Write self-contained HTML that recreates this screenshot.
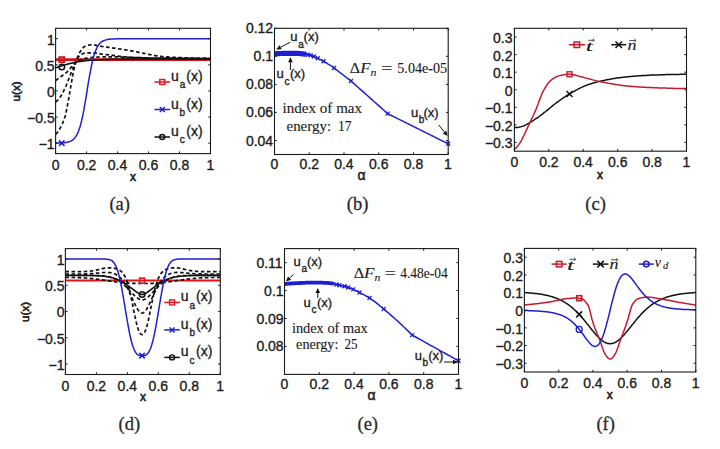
<!DOCTYPE html><html><head><meta charset="utf-8"><style>html,body{margin:0;padding:0;background:#fff;}svg{display:block}</style></head><body><svg width="720" height="449" viewBox="0 0 720 449">
<style>text{stroke:#222;stroke-width:0.35px}text.s{stroke-width:0.12px}text.xl{stroke-width:0.6px}text.cp{stroke:#333;stroke-width:0.3px}text.al{stroke-width:0.5px}</style>
<rect width="720" height="449" fill="#ffffff"/>
<clipPath id="ca"><rect x="55.6" y="28.3" width="154.9" height="125.3"/></clipPath>
<g clip-path="url(#ca)">
<polyline points="55.6,59.6 56.6,59.6 57.5,59.6 58.5,59.6 59.5,59.6 60.4,59.6 61.4,59.6 62.4,59.6 63.3,59.6 64.3,59.6 65.3,59.6 66.2,59.6 67.2,59.6 68.2,59.6 69.2,59.6 70.1,59.6 71.1,59.6 72.1,59.6 73.0,59.6 74.0,59.6 75.0,59.6 75.9,59.6 76.9,59.6 77.9,59.6 78.8,59.6 79.8,59.6 80.8,59.6 81.7,59.6 82.7,59.6 83.7,59.6 84.6,59.6 85.6,59.6 86.6,59.6 87.5,59.6 88.5,59.6 89.5,59.6 90.5,59.6 91.4,59.6 92.4,59.6 93.4,59.6 94.3,59.6 95.3,59.6 96.3,59.6 97.2,59.6 98.2,59.6 99.2,59.6 100.1,59.6 101.1,59.6 102.1,59.6 103.0,59.6 104.0,59.6 105.0,59.6 105.9,59.6 106.9,59.6 107.9,59.6 108.8,59.6 109.8,59.6 110.8,59.6 111.8,59.6 112.7,59.6 113.7,59.6 114.7,59.6 115.6,59.6 116.6,59.6 117.6,59.6 118.5,59.6 119.5,59.6 120.5,59.6 121.4,59.6 122.4,59.6 123.4,59.6 124.3,59.6 125.3,59.6 126.3,59.6 127.2,59.6 128.2,59.6 129.2,59.6 130.1,59.6 131.1,59.6 132.1,59.6 133.1,59.6 134.0,59.6 135.0,59.6 136.0,59.6 136.9,59.6 137.9,59.6 138.9,59.6 139.8,59.6 140.8,59.6 141.8,59.6 142.7,59.6 143.7,59.6 144.7,59.6 145.6,59.6 146.6,59.6 147.6,59.6 148.5,59.6 149.5,59.6 150.5,59.6 151.4,59.6 152.4,59.6 153.4,59.6 154.3,59.6 155.3,59.6 156.3,59.6 157.3,59.6 158.2,59.6 159.2,59.6 160.2,59.6 161.1,59.6 162.1,59.6 163.1,59.6 164.0,59.6 165.0,59.6 166.0,59.6 166.9,59.6 167.9,59.6 168.9,59.6 169.8,59.6 170.8,59.6 171.8,59.6 172.7,59.6 173.7,59.6 174.7,59.6 175.6,59.6 176.6,59.6 177.6,59.6 178.6,59.6 179.5,59.6 180.5,59.6 181.5,59.6 182.4,59.6 183.4,59.6 184.4,59.6 185.3,59.6 186.3,59.6 187.3,59.6 188.2,59.6 189.2,59.6 190.2,59.6 191.1,59.6 192.1,59.6 193.1,59.6 194.0,59.6 195.0,59.6 196.0,59.6 196.9,59.6 197.9,59.6 198.9,59.6 199.9,59.6 200.8,59.6 201.8,59.6 202.8,59.6 203.7,59.6 204.7,59.6 205.7,59.6 206.6,59.6 207.6,59.6 208.6,59.6 209.5,59.6 210.5,59.6" fill="none" stroke="#d0141c" stroke-width="2.6" stroke-linejoin="round" stroke-linecap="butt"/>
<polyline points="55.6,134.3 56.6,133.3 57.5,132.2 58.5,130.8 59.5,129.3 60.4,127.7 61.4,125.9 62.4,123.8 63.3,121.5 64.3,118.8 65.3,115.7 66.2,111.6 67.2,106.7 68.2,101.3 69.2,95.9 70.1,90.4 71.1,84.5 72.1,78.9 73.0,73.9 74.0,69.4 75.0,65.5 75.9,62.1 76.9,59.0 77.9,56.3 78.8,54.0 79.8,52.3 80.8,50.7 81.7,49.3 82.7,48.1 83.7,47.2 84.6,46.5 85.6,46.1 86.6,45.7 87.5,45.4 88.5,45.2 89.5,45.0 90.5,44.8 91.4,44.8 92.4,44.8 93.4,44.8 94.3,45.0 95.3,45.2 96.3,45.4 97.2,45.6 98.2,45.8 99.2,46.0 100.1,46.2 101.1,46.3 102.1,46.5 103.0,46.6 104.0,46.7 105.0,46.9 105.9,47.0 106.9,47.1 107.9,47.3 108.8,47.4 109.8,47.5 110.8,47.7 111.8,47.8 112.7,48.0 113.7,48.1 114.7,48.2 115.6,48.4 116.6,48.5 117.6,48.7 118.5,48.8 119.5,49.0 120.5,49.1 121.4,49.2 122.4,49.4 123.4,49.5 124.3,49.7 125.3,49.8 126.3,50.0 127.2,50.1 128.2,50.3 129.2,50.4 130.1,50.6 131.1,50.8 132.1,50.9 133.1,51.1 134.0,51.3 135.0,51.5 136.0,51.7 136.9,51.9 137.9,52.1 138.9,52.3 139.8,52.5 140.8,52.7 141.8,52.9 142.7,53.1 143.7,53.3 144.7,53.5 145.6,53.7 146.6,53.9 147.6,54.2 148.5,54.4 149.5,54.6 150.5,54.7 151.4,54.9 152.4,55.1 153.4,55.3 154.3,55.5 155.3,55.6 156.3,55.8 157.3,55.9 158.2,56.1 159.2,56.2 160.2,56.3 161.1,56.4 162.1,56.5 163.1,56.6 164.0,56.6 165.0,56.7 166.0,56.8 166.9,56.9 167.9,56.9 168.9,57.0 169.8,57.1 170.8,57.1 171.8,57.2 172.7,57.3 173.7,57.3 174.7,57.4 175.6,57.4 176.6,57.5 177.6,57.5 178.6,57.6 179.5,57.6 180.5,57.7 181.5,57.7 182.4,57.8 183.4,57.8 184.4,57.9 185.3,57.9 186.3,57.9 187.3,58.0 188.2,58.0 189.2,58.0 190.2,58.1 191.1,58.1 192.1,58.1 193.1,58.2 194.0,58.2 195.0,58.2 196.0,58.2 196.9,58.3 197.9,58.3 198.9,58.3 199.9,58.3 200.8,58.3 201.8,58.4 202.8,58.4 203.7,58.4 204.7,58.4 205.7,58.4 206.6,58.4 207.6,58.5 208.6,58.5 209.5,58.5 210.5,58.5" fill="none" stroke="#111111" stroke-width="1.7" stroke-dasharray="3.6,2.5" stroke-linejoin="round" stroke-linecap="butt"/>
<polyline points="55.6,101.9 56.6,101.2 57.5,100.3 58.5,99.2 59.5,98.1 60.4,96.7 61.4,95.2 62.4,93.5 63.3,91.6 64.3,89.7 65.3,87.7 66.2,85.5 67.2,83.0 68.2,80.5 69.2,78.0 70.1,75.5 71.1,73.0 72.1,70.4 73.0,67.9 74.0,65.4 75.0,63.2 75.9,61.2 76.9,59.3 77.9,57.7 78.8,56.5 79.8,55.6 80.8,54.9 81.7,54.2 82.7,53.7 83.7,53.3 84.6,53.1 85.6,53.0 86.6,53.0 87.5,52.9 88.5,52.9 89.5,52.9 90.5,52.9 91.4,52.8 92.4,52.8 93.4,52.9 94.3,52.9 95.3,53.1 96.3,53.2 97.2,53.4 98.2,53.6 99.2,53.8 100.1,53.9 101.1,54.0 102.1,54.1 103.0,54.2 104.0,54.3 105.0,54.5 105.9,54.6 106.9,54.7 107.9,54.8 108.8,54.9 109.8,55.0 110.8,55.1 111.8,55.2 112.7,55.3 113.7,55.4 114.7,55.5 115.6,55.7 116.6,55.8 117.6,56.0 118.5,56.1 119.5,56.3 120.5,56.4 121.4,56.6 122.4,56.7 123.4,56.8 124.3,56.8 125.3,56.9 126.3,57.0 127.2,57.0 128.2,57.1 129.2,57.2 130.1,57.2 131.1,57.3 132.1,57.4 133.1,57.4 134.0,57.5 135.0,57.5 136.0,57.6 136.9,57.6 137.9,57.7 138.9,57.7 139.8,57.7 140.8,57.8 141.8,57.8 142.7,57.8 143.7,57.9 144.7,57.9 145.6,57.9 146.6,57.9 147.6,57.9 148.5,58.0 149.5,58.0 150.5,58.0 151.4,58.0 152.4,58.0 153.4,58.0 154.3,58.0 155.3,58.0 156.3,58.0 157.3,58.0 158.2,58.1 159.2,58.1 160.2,58.1 161.1,58.1 162.1,58.1 163.1,58.1 164.0,58.1 165.0,58.1 166.0,58.1 166.9,58.1 167.9,58.1 168.9,58.2 169.8,58.2 170.8,58.2 171.8,58.2 172.7,58.2 173.7,58.2 174.7,58.2 175.6,58.2 176.6,58.2 177.6,58.2 178.6,58.2 179.5,58.2 180.5,58.2 181.5,58.2 182.4,58.2 183.4,58.2 184.4,58.3 185.3,58.3 186.3,58.3 187.3,58.3 188.2,58.3 189.2,58.3 190.2,58.3 191.1,58.3 192.1,58.3 193.1,58.3 194.0,58.3 195.0,58.3 196.0,58.3 196.9,58.3 197.9,58.3 198.9,58.3 199.9,58.3 200.8,58.3 201.8,58.3 202.8,58.3 203.7,58.3 204.7,58.3 205.7,58.3 206.6,58.3 207.6,58.3 208.6,58.3 209.5,58.3 210.5,58.3" fill="none" stroke="#111111" stroke-width="1.7" stroke-dasharray="3.6,2.5" stroke-linejoin="round" stroke-linecap="butt"/>
<polyline points="55.6,80.5 56.6,79.8 57.5,79.1 58.5,78.4 59.5,77.7 60.4,76.9 61.4,76.2 62.4,75.5 63.3,74.8 64.3,74.1 65.3,73.4 66.2,72.6 67.2,71.8 68.2,70.8 69.2,69.7 70.1,68.5 71.1,67.3 72.1,66.1 73.0,64.9 74.0,64.0 75.0,63.1 75.9,62.3 76.9,61.6 77.9,60.9 78.8,60.3 79.8,59.8 80.8,59.5 81.7,59.2 82.7,59.0 83.7,58.8 84.6,58.6 85.6,58.4 86.6,58.2 87.5,58.0 88.5,57.9 89.5,57.7 90.5,57.6 91.4,57.5 92.4,57.4 93.4,57.3 94.3,57.3 95.3,57.2 96.3,57.2 97.2,57.1 98.2,57.1 99.2,57.0 100.1,57.0 101.1,56.9 102.1,56.9 103.0,56.9 104.0,56.8 105.0,56.8 105.9,56.8 106.9,56.8 107.9,56.8 108.8,56.8 109.8,56.8 110.8,56.8 111.8,56.8 112.7,56.8 113.7,56.8 114.7,56.8 115.6,56.8 116.6,56.9 117.6,56.9 118.5,56.9 119.5,57.0 120.5,57.0 121.4,57.1 122.4,57.1 123.4,57.2 124.3,57.2 125.3,57.2 126.3,57.3 127.2,57.3 128.2,57.4 129.2,57.4 130.1,57.4 131.1,57.5 132.1,57.5 133.1,57.5 134.0,57.6 135.0,57.6 136.0,57.6 136.9,57.6 137.9,57.7 138.9,57.7 139.8,57.7 140.8,57.7 141.8,57.8 142.7,57.8 143.7,57.8 144.7,57.8 145.6,57.8 146.6,57.9 147.6,57.9 148.5,57.9 149.5,57.9 150.5,57.9 151.4,58.0 152.4,58.0 153.4,58.0 154.3,58.0 155.3,58.0 156.3,58.1 157.3,58.1 158.2,58.1 159.2,58.1 160.2,58.1 161.1,58.1 162.1,58.1 163.1,58.2 164.0,58.2 165.0,58.2 166.0,58.2 166.9,58.2 167.9,58.2 168.9,58.2 169.8,58.2 170.8,58.2 171.8,58.2 172.7,58.3 173.7,58.3 174.7,58.3 175.6,58.3 176.6,58.3 177.6,58.3 178.6,58.3 179.5,58.3 180.5,58.3 181.5,58.3 182.4,58.3 183.4,58.3 184.4,58.4 185.3,58.4 186.3,58.4 187.3,58.4 188.2,58.4 189.2,58.4 190.2,58.4 191.1,58.4 192.1,58.4 193.1,58.4 194.0,58.4 195.0,58.4 196.0,58.4 196.9,58.4 197.9,58.4 198.9,58.5 199.9,58.5 200.8,58.5 201.8,58.5 202.8,58.5 203.7,58.5 204.7,58.5 205.7,58.5 206.6,58.5 207.6,58.5 208.6,58.5 209.5,58.5 210.5,58.5" fill="none" stroke="#111111" stroke-width="1.7" stroke-dasharray="3.6,2.5" stroke-linejoin="round" stroke-linecap="butt"/>
<polyline points="55.6,67.7 56.6,67.5 57.5,67.2 58.5,66.9 59.5,66.6 60.4,66.3 61.4,66.0 62.4,65.6 63.3,65.3 64.3,65.0 65.3,64.8 66.2,64.5 67.2,64.2 68.2,63.9 69.2,63.7 70.1,63.4 71.1,63.2 72.1,63.0 73.0,62.8 74.0,62.6 75.0,62.4 75.9,62.2 76.9,62.0 77.9,61.8 78.8,61.7 79.8,61.5 80.8,61.4 81.7,61.2 82.7,61.1 83.7,61.0 84.6,60.8 85.6,60.7 86.6,60.6 87.5,60.5 88.5,60.4 89.5,60.3 90.5,60.3 91.4,60.2 92.4,60.1 93.4,60.0 94.3,60.0 95.3,59.9 96.3,59.9 97.2,59.8 98.2,59.7 99.2,59.7 100.1,59.7 101.1,59.6 102.1,59.6 103.0,59.5 104.0,59.5 105.0,59.5 105.9,59.4 106.9,59.4 107.9,59.4 108.8,59.3 109.8,59.3 110.8,59.3 111.8,59.3 112.7,59.3 113.7,59.2 114.7,59.2 115.6,59.2 116.6,59.2 117.6,59.2 118.5,59.2 119.5,59.2 120.5,59.1 121.4,59.1 122.4,59.1 123.4,59.1 124.3,59.1 125.3,59.1 126.3,59.1 127.2,59.1 128.2,59.1 129.2,59.1 130.1,59.1 131.1,59.1 132.1,59.1 133.1,59.1 134.0,59.1 135.0,59.0 136.0,59.0 136.9,59.0 137.9,59.0 138.9,59.0 139.8,59.0 140.8,59.0 141.8,59.0 142.7,59.0 143.7,59.0 144.7,59.0 145.6,59.0 146.6,59.0 147.6,59.0 148.5,59.0 149.5,59.0 150.5,59.0 151.4,59.0 152.4,59.0 153.4,59.0 154.3,59.0 155.3,59.0 156.3,59.0 157.3,59.0 158.2,59.0 159.2,59.0 160.2,59.0 161.1,59.0 162.1,59.0 163.1,59.0 164.0,59.0 165.0,59.0 166.0,59.0 166.9,59.0 167.9,59.0 168.9,59.0 169.8,59.0 170.8,59.0 171.8,59.0 172.7,59.0 173.7,59.0 174.7,59.0 175.6,59.0 176.6,59.0 177.6,59.0 178.6,59.0 179.5,59.0 180.5,59.0 181.5,59.0 182.4,59.0 183.4,59.0 184.4,59.0 185.3,59.0 186.3,59.0 187.3,59.0 188.2,59.0 189.2,59.0 190.2,59.0 191.1,59.0 192.1,59.0 193.1,59.0 194.0,59.0 195.0,59.0 196.0,59.0 196.9,59.0 197.9,59.0 198.9,59.0 199.9,59.0 200.8,59.0 201.8,59.0 202.8,59.0 203.7,59.0 204.7,59.0 205.7,59.0 206.6,59.0 207.6,59.0 208.6,59.0 209.5,59.0 210.5,59.0" fill="none" stroke="#111111" stroke-width="1.6" stroke-linejoin="round" stroke-linecap="butt"/>
<polyline points="55.6,143.1 56.6,143.1 57.5,143.1 58.5,143.0 59.5,143.0 60.4,143.0 61.4,142.9 62.4,142.9 63.3,142.8 64.3,142.7 65.3,142.6 66.2,142.4 67.2,142.3 68.2,142.0 69.2,141.7 70.1,141.4 71.1,140.9 72.1,140.3 73.0,139.6 74.0,138.7 75.0,137.7 75.9,136.3 76.9,134.7 77.9,132.7 78.8,130.3 79.8,127.5 80.8,124.1 81.7,120.2 82.7,115.8 83.7,110.9 84.6,105.5 85.6,99.8 86.6,93.8 87.5,87.8 88.5,81.9 89.5,76.1 90.5,70.8 91.4,65.9 92.4,61.5 93.4,57.6 94.3,54.3 95.3,51.5 96.3,49.1 97.2,47.2 98.2,45.5 99.2,44.2 100.1,43.1 101.1,42.2 102.1,41.5 103.0,41.0 104.0,40.5 105.0,40.2 105.9,39.9 106.9,39.6 107.9,39.5 108.8,39.3 109.8,39.2 110.8,39.1 111.8,39.0 112.7,39.0 113.7,38.9 114.7,38.9 115.6,38.9 116.6,38.8 117.6,38.8 118.5,38.8 119.5,38.8 120.5,38.8 121.4,38.8 122.4,38.8 123.4,38.8 124.3,38.8 125.3,38.8 126.3,38.8 127.2,38.7 128.2,38.7 129.2,38.7 130.1,38.7 131.1,38.7 132.1,38.7 133.1,38.7 134.0,38.7 135.0,38.7 136.0,38.7 136.9,38.7 137.9,38.7 138.9,38.7 139.8,38.7 140.8,38.7 141.8,38.7 142.7,38.7 143.7,38.7 144.7,38.7 145.6,38.7 146.6,38.7 147.6,38.7 148.5,38.7 149.5,38.7 150.5,38.7 151.4,38.7 152.4,38.7 153.4,38.7 154.3,38.7 155.3,38.7 156.3,38.7 157.3,38.7 158.2,38.7 159.2,38.7 160.2,38.7 161.1,38.7 162.1,38.7 163.1,38.7 164.0,38.7 165.0,38.7 166.0,38.7 166.9,38.7 167.9,38.7 168.9,38.7 169.8,38.7 170.8,38.7 171.8,38.7 172.7,38.7 173.7,38.7 174.7,38.7 175.6,38.7 176.6,38.7 177.6,38.7 178.6,38.7 179.5,38.7 180.5,38.7 181.5,38.7 182.4,38.7 183.4,38.7 184.4,38.7 185.3,38.7 186.3,38.7 187.3,38.7 188.2,38.7 189.2,38.7 190.2,38.7 191.1,38.7 192.1,38.7 193.1,38.7 194.0,38.7 195.0,38.7 196.0,38.7 196.9,38.7 197.9,38.7 198.9,38.7 199.9,38.7 200.8,38.7 201.8,38.7 202.8,38.7 203.7,38.7 204.7,38.7 205.7,38.7 206.6,38.7 207.6,38.7 208.6,38.7 209.5,38.7 210.5,38.7" fill="none" stroke="#1e1ed2" stroke-width="1.5" stroke-linejoin="round" stroke-linecap="butt"/>
</g>
<rect x="59.3" y="57.1" width="5.0" height="5.0" fill="none" stroke="#d0141c" stroke-width="1.8"/>
<path d="M59.0,140.4L64.5,145.9M59.0,145.9L64.5,140.4" stroke="#1e1ed2" stroke-width="1.5" fill="none"/>
<circle cx="61.8" cy="67.0" r="2.8" fill="none" stroke="#111111" stroke-width="1.5"/>
<rect x="55.6" y="28.3" width="154.9" height="125.3" fill="none" stroke="#1a1a1a" stroke-width="1.1"/>
<path d="M55.6,153.6v-2.2M55.6,28.3v2.2M86.6,153.6v-2.2M86.6,28.3v2.2M117.6,153.6v-2.2M117.6,28.3v2.2M148.5,153.6v-2.2M148.5,28.3v2.2M179.5,153.6v-2.2M179.5,28.3v2.2M210.5,153.6v-2.2M210.5,28.3v2.2M55.6,143.2h2.2M210.5,143.2h-2.2M55.6,117.1h2.2M210.5,117.1h-2.2M55.6,90.9h2.2M210.5,90.9h-2.2M55.6,64.8h2.2M210.5,64.8h-2.2M55.6,38.7h2.2M210.5,38.7h-2.2" stroke="#1a1a1a" stroke-width="1" fill="none"/>
<text x="51.7" y="169.8" style="font-family:'Liberation Sans',sans-serif;font-size:14px;fill:#1a1a1a">0</text>
<text x="76.9" y="169.8" style="font-family:'Liberation Sans',sans-serif;font-size:14px;fill:#1a1a1a">0.2</text>
<text x="107.8" y="169.8" style="font-family:'Liberation Sans',sans-serif;font-size:14px;fill:#1a1a1a">0.4</text>
<text x="138.8" y="169.8" style="font-family:'Liberation Sans',sans-serif;font-size:14px;fill:#1a1a1a">0.6</text>
<text x="169.8" y="169.8" style="font-family:'Liberation Sans',sans-serif;font-size:14px;fill:#1a1a1a">0.8</text>
<text x="206.4" y="169.8" style="font-family:'Liberation Sans',sans-serif;font-size:14px;fill:#1a1a1a">1</text>
<text x="38.7" y="148.9" style="font-family:'Liberation Sans',sans-serif;font-size:14px;fill:#1a1a1a">−1</text>
<text x="27.1" y="122.8" style="font-family:'Liberation Sans',sans-serif;font-size:14px;fill:#1a1a1a">−0.5</text>
<text x="46.9" y="96.7" style="font-family:'Liberation Sans',sans-serif;font-size:14px;fill:#1a1a1a">0</text>
<text x="35.2" y="70.6" style="font-family:'Liberation Sans',sans-serif;font-size:14px;fill:#1a1a1a">0.5</text>
<text x="46.9" y="44.5" style="font-family:'Liberation Sans',sans-serif;font-size:14px;fill:#1a1a1a">1</text>
<text x="129.9" y="180.6" style="font-family:'Liberation Sans',sans-serif;font-size:12px;fill:#1a1a1a" class="xl">x</text>
<text class="xl" transform="translate(19.5,91.4) rotate(-90)" text-anchor="middle" style="font-family:'Liberation Sans',sans-serif;font-size:11.6px;fill:#1a1a1a">u(x)</text>
<line x1="154.5" y1="82.0" x2="170.0" y2="82.0" stroke="#e3141c" stroke-width="1.5"/>
<rect x="159.8" y="79.5" width="5.0" height="5.0" fill="none" stroke="#e3141c" stroke-width="1.4"/>
<text x="171.0" y="81.0" style="font-family:'Liberation Sans',sans-serif;font-size:14px;fill:#1a1a1a">u</text>
<text x="179.8" y="88.3" style="font-family:'Liberation Sans',sans-serif;font-size:10px;fill:#1a1a1a">a</text>
<text x="186.3" y="81.0" style="font-family:'Liberation Sans',sans-serif;font-size:14px;fill:#1a1a1a">(x)</text>
<line x1="154.5" y1="109.5" x2="170.0" y2="109.5" stroke="#1e1ed2" stroke-width="1.5"/>
<path d="M159.8,107.0L164.8,112.0M159.8,112.0L164.8,107.0" stroke="#1e1ed2" stroke-width="1.4" fill="none"/>
<text x="171.0" y="108.5" style="font-family:'Liberation Sans',sans-serif;font-size:14px;fill:#1a1a1a">u</text>
<text x="179.6" y="115.8" style="font-family:'Liberation Sans',sans-serif;font-size:10px;fill:#1a1a1a">b</text>
<text x="186.3" y="108.5" style="font-family:'Liberation Sans',sans-serif;font-size:14px;fill:#1a1a1a">(x)</text>
<line x1="154.5" y1="137.0" x2="170.0" y2="137.0" stroke="#111111" stroke-width="1.5"/>
<circle cx="162.2" cy="137.0" r="2.5" fill="none" stroke="#111111" stroke-width="1.4"/>
<text x="171.0" y="136.0" style="font-family:'Liberation Sans',sans-serif;font-size:14px;fill:#1a1a1a">u</text>
<text x="179.8" y="143.3" style="font-family:'Liberation Sans',sans-serif;font-size:10px;fill:#1a1a1a">c</text>
<text x="186.3" y="136.0" style="font-family:'Liberation Sans',sans-serif;font-size:14px;fill:#1a1a1a">(x)</text>
<text class="cp" x="109.4" y="210.0" style="font-family:'Liberation Serif',serif;font-size:18.5px;fill:#262626">(a)</text>
<clipPath id="cb"><rect x="274.5" y="28.3" width="173.7" height="126.2"/></clipPath>
<g clip-path="url(#cb)">
<polyline points="274.5,53.9 275.4,53.8 276.2,53.8 277.1,53.7 278.0,53.7 278.9,53.6 279.7,53.6 280.6,53.5 281.5,53.5 282.4,53.4 283.2,53.4 284.1,53.4 285.0,53.4 285.8,53.4 286.7,53.4 287.6,53.4 288.5,53.4 289.3,53.4 290.2,53.4 291.1,53.4 292.0,53.4 292.8,53.4 293.7,53.4 294.6,53.4 295.4,53.4 296.3,53.4 297.2,53.4 298.1,53.5 298.9,53.5 299.8,53.6 300.7,53.6 301.6,53.7 302.4,53.8 303.3,53.9 304.2,54.1 305.1,54.2 305.9,54.3 306.8,54.4 307.7,54.6 308.5,54.8 309.4,55.1 310.3,55.3 311.2,55.6 312.0,55.9 312.9,56.2 313.8,56.5 314.7,56.8 315.5,57.2 316.4,57.6 317.3,58.0 318.1,58.4 319.0,58.9 319.9,59.3 320.8,59.8 321.6,60.3 322.5,60.8 323.4,61.2 324.3,61.7 325.1,62.2 326.0,62.7 326.9,63.2 327.7,63.8 328.6,64.3 329.5,64.9 330.4,65.4 331.2,66.0 332.1,66.6 333.0,67.2 333.9,67.9 334.7,68.5 335.6,69.2 336.5,69.9 337.3,70.5 338.2,71.2 339.1,71.9 340.0,72.5 340.8,73.2 341.7,73.9 342.6,74.5 343.5,75.2 344.3,75.9 345.2,76.6 346.1,77.2 346.9,77.9 347.8,78.6 348.7,79.2 349.6,79.9 350.4,80.6 351.3,81.3 352.2,82.1 353.1,82.8 353.9,83.6 354.8,84.4 355.7,85.2 356.5,85.9 357.4,86.7 358.3,87.5 359.2,88.3 360.0,89.1 360.9,89.8 361.8,90.6 362.7,91.4 363.5,92.2 364.4,92.9 365.3,93.7 366.2,94.5 367.0,95.3 367.9,96.0 368.8,96.8 369.6,97.6 370.5,98.4 371.4,99.2 372.3,99.9 373.1,100.7 374.0,101.5 374.9,102.3 375.8,103.0 376.6,103.8 377.5,104.6 378.4,105.4 379.2,106.2 380.1,106.9 381.0,107.7 381.9,108.5 382.7,109.3 383.6,110.0 384.5,110.8 385.4,111.6 386.2,112.4 387.1,113.2 388.0,113.8 388.8,114.2 389.7,114.7 390.6,115.1 391.5,115.5 392.3,116.0 393.2,116.4 394.1,116.8 395.0,117.3 395.8,117.7 396.7,118.1 397.6,118.6 398.4,119.0 399.3,119.4 400.2,119.9 401.1,120.3 401.9,120.7 402.8,121.2 403.7,121.6 404.6,122.1 405.4,122.5 406.3,122.9 407.2,123.4 408.0,123.8 408.9,124.2 409.8,124.7 410.7,125.1 411.5,125.5 412.4,126.0 413.3,126.4 414.2,126.8 415.0,127.3 415.9,127.7 416.8,128.1 417.6,128.6 418.5,129.0 419.4,129.4 420.3,129.9 421.1,130.3 422.0,130.8 422.9,131.2 423.8,131.6 424.6,132.1 425.5,132.5 426.4,132.9 427.3,133.4 428.1,133.8 429.0,134.2 429.9,134.7 430.7,135.1 431.6,135.5 432.5,136.0 433.4,136.4 434.2,136.8 435.1,137.3 436.0,137.7 436.9,138.1 437.7,138.6 438.6,139.0 439.5,139.5 440.3,139.9 441.2,140.3 442.1,140.8 443.0,141.2 443.8,141.6 444.7,142.1 445.6,142.5 446.5,142.9 447.3,143.4 448.2,143.8" fill="none" stroke="#1e1ed2" stroke-width="1.5" stroke-linejoin="round" stroke-linecap="butt"/>
<polyline points="274.5,53.9 275.3,53.8 276.1,53.8 276.9,53.7 277.7,53.7 278.5,53.6 279.3,53.6 280.2,53.5 281.0,53.5 281.8,53.5 282.6,53.4 283.4,53.4 284.2,53.4 285.0,53.4 285.8,53.4 286.6,53.4 287.4,53.4 288.2,53.4 289.0,53.4 289.8,53.4 290.7,53.4 291.5,53.4 292.3,53.4 293.1,53.4 293.9,53.4 294.7,53.4 295.5,53.4 296.3,53.4 297.1,53.4 297.9,53.4 298.7,53.5 299.5,53.5 300.3,53.6 301.2,53.7 302.0,53.8 302.8,53.9 303.6,54.0 304.4,54.1 305.2,54.2 306.0,54.3" fill="none" stroke="#1e1ed2" stroke-width="5.2" stroke-linejoin="round" stroke-linecap="butt"/>
</g>
<path d="M306.0,52.7L310.0,56.7M306.0,56.7L310.0,52.7" stroke="#1e1ed2" stroke-width="1.3" fill="none"/>
<path d="M308.5,53.4L312.5,57.4M308.5,57.4L312.5,53.4" stroke="#1e1ed2" stroke-width="1.3" fill="none"/>
<path d="M311.8,54.5L315.8,58.5M311.8,58.5L315.8,54.5" stroke="#1e1ed2" stroke-width="1.3" fill="none"/>
<path d="M315.7,56.2L319.7,60.2M315.7,60.2L319.7,56.2" stroke="#1e1ed2" stroke-width="1.3" fill="none"/>
<path d="M321.5,59.3L325.5,63.3M321.5,63.3L325.5,59.3" stroke="#1e1ed2" stroke-width="1.3" fill="none"/>
<path d="M332.0,66.0L336.0,70.0M332.0,70.0L336.0,66.0" stroke="#1e1ed2" stroke-width="1.3" fill="none"/>
<path d="M349.0,79.0L353.0,83.0M349.0,83.0L353.0,79.0" stroke="#1e1ed2" stroke-width="1.3" fill="none"/>
<path d="M385.6,111.6L389.6,115.6M385.6,115.6L389.6,111.6" stroke="#1e1ed2" stroke-width="1.3" fill="none"/>
<path d="M446.2,141.8L450.2,145.8M446.2,145.8L450.2,141.8" stroke="#1e1ed2" stroke-width="1.3" fill="none"/>
<rect x="274.5" y="28.3" width="173.7" height="126.2" fill="none" stroke="#1a1a1a" stroke-width="1.1"/>
<path d="M274.5,154.5v-2.2M274.5,28.3v2.2M309.2,154.5v-2.2M309.2,28.3v2.2M344.0,154.5v-2.2M344.0,28.3v2.2M378.7,154.5v-2.2M378.7,28.3v2.2M413.5,154.5v-2.2M413.5,28.3v2.2M448.2,154.5v-2.2M448.2,28.3v2.2M274.5,140.5h2.2M448.2,140.5h-2.2M274.5,112.4h2.2M448.2,112.4h-2.2M274.5,84.4h2.2M448.2,84.4h-2.2M274.5,56.3h2.2M448.2,56.3h-2.2M274.5,28.3h2.2M448.2,28.3h-2.2" stroke="#1a1a1a" stroke-width="1" fill="none"/>
<text x="270.6" y="169.0" style="font-family:'Liberation Sans',sans-serif;font-size:14px;fill:#1a1a1a">0</text>
<text x="299.6" y="169.0" style="font-family:'Liberation Sans',sans-serif;font-size:14px;fill:#1a1a1a">0.2</text>
<text x="334.2" y="169.0" style="font-family:'Liberation Sans',sans-serif;font-size:14px;fill:#1a1a1a">0.4</text>
<text x="369.0" y="169.0" style="font-family:'Liberation Sans',sans-serif;font-size:14px;fill:#1a1a1a">0.6</text>
<text x="403.8" y="169.0" style="font-family:'Liberation Sans',sans-serif;font-size:14px;fill:#1a1a1a">0.8</text>
<text x="444.1" y="169.0" style="font-family:'Liberation Sans',sans-serif;font-size:14px;fill:#1a1a1a">1</text>
<text x="245.9" y="145.5" style="font-family:'Liberation Sans',sans-serif;font-size:14px;fill:#1a1a1a">0.04</text>
<text x="245.9" y="117.4" style="font-family:'Liberation Sans',sans-serif;font-size:14px;fill:#1a1a1a">0.06</text>
<text x="245.9" y="89.4" style="font-family:'Liberation Sans',sans-serif;font-size:14px;fill:#1a1a1a">0.08</text>
<text x="253.6" y="61.3" style="font-family:'Liberation Sans',sans-serif;font-size:14px;fill:#1a1a1a">0.1</text>
<text x="245.9" y="33.3" style="font-family:'Liberation Sans',sans-serif;font-size:14px;fill:#1a1a1a">0.12</text>
<text x="357.6" y="179.5" style="font-family:'Liberation Sans',sans-serif;font-size:14px;fill:#1a1a1a" class="al">α</text>
<text x="290.2" y="41.3" style="font-family:'Liberation Sans',sans-serif;font-size:13px;fill:#1a1a1a">u</text>
<text x="298.2" y="47.6" style="font-family:'Liberation Sans',sans-serif;font-size:10px;fill:#1a1a1a">a</text>
<text x="303.6" y="41.3" style="font-family:'Liberation Sans',sans-serif;font-size:13px;fill:#1a1a1a">(x)</text>
<line x1="290.3" y1="42.2" x2="280.6" y2="47.3" stroke="#111" stroke-width="1.0"/>
<path d="M276.2,49.6L279.6,45.2L281.7,49.3Z" fill="#111"/>
<text x="276.6" y="78.2" style="font-family:'Liberation Sans',sans-serif;font-size:13px;fill:#1a1a1a">u</text>
<text x="284.6" y="84.5" style="font-family:'Liberation Sans',sans-serif;font-size:10px;fill:#1a1a1a">c</text>
<text x="290.0" y="78.2" style="font-family:'Liberation Sans',sans-serif;font-size:13px;fill:#1a1a1a">(x)</text>
<line x1="290.4" y1="70.0" x2="290.4" y2="62.2" stroke="#111" stroke-width="1.0"/>
<path d="M290.4,57.2L292.7,62.2L288.1,62.2Z" fill="#111"/>
<text x="410.9" y="116.5" style="font-family:'Liberation Sans',sans-serif;font-size:13px;fill:#1a1a1a">u</text>
<text x="418.7" y="122.8" style="font-family:'Liberation Sans',sans-serif;font-size:10px;fill:#1a1a1a">b</text>
<text x="423.4" y="116.5" style="font-family:'Liberation Sans',sans-serif;font-size:13px;fill:#1a1a1a">(x)</text>
<line x1="438.8" y1="125.0" x2="444.5" y2="132.1" stroke="#111" stroke-width="1.0"/>
<path d="M447.6,136.0L442.7,133.5L446.3,130.7Z" fill="#111"/>
<text class="s" x="349.8" y="73.4" textLength="10.3" lengthAdjust="spacingAndGlyphs" style="font-family:'Liberation Serif',serif;font-size:14.5px;fill:#1a1a1a">Δ</text>
<text class="s" x="360.3" y="73.4" textLength="10.2" lengthAdjust="spacingAndGlyphs" style="font-family:'Liberation Serif',serif;font-size:14.5px;font-style:italic;fill:#1a1a1a">F</text>
<text class="s" x="370.6" y="75.8" textLength="5.9" lengthAdjust="spacingAndGlyphs" style="font-family:'Liberation Serif',serif;font-size:10.5px;font-style:italic;fill:#1a1a1a">n</text>
<text class="s" x="381.2" y="73.4" textLength="11.2" lengthAdjust="spacingAndGlyphs" style="font-family:'Liberation Serif',serif;font-size:14.5px;fill:#1a1a1a">=</text>
<text class="s" x="397.3" y="73.4" textLength="49.9" lengthAdjust="spacingAndGlyphs" style="font-family:'Liberation Serif',serif;font-size:14px;fill:#1a1a1a">5.04e-05</text>
<text class="s" x="282.6" y="113.0" textLength="79.5" lengthAdjust="spacingAndGlyphs" style="font-family:'Liberation Serif',serif;font-size:14px;fill:#1a1a1a">index of max</text>
<text class="s" x="286.5" y="130.5" textLength="44.6" lengthAdjust="spacingAndGlyphs" style="font-family:'Liberation Serif',serif;font-size:14px;fill:#1a1a1a">energy:</text>
<text class="s" x="338.0" y="130.5" textLength="13.6" lengthAdjust="spacingAndGlyphs" style="font-family:'Liberation Serif',serif;font-size:14px;fill:#1a1a1a">17</text>
<text class="cp" x="346.8" y="210.0" style="font-family:'Liberation Serif',serif;font-size:18.5px;fill:#262626">(b)</text>
<clipPath id="cc"><rect x="514.4" y="28.3" width="172.1" height="122.9"/></clipPath>
<g clip-path="url(#cc)">
<polyline points="514.4,127.7 515.5,127.6 516.6,127.5 517.6,127.4 518.7,127.2 519.8,126.9 520.9,126.7 521.9,126.4 523.0,126.1 524.1,125.7 525.2,125.2 526.2,124.7 527.3,124.1 528.4,123.4 529.5,122.8 530.5,122.2 531.6,121.5 532.7,120.9 533.8,120.2 534.8,119.5 535.9,118.7 537.0,118.0 538.1,117.3 539.1,116.5 540.2,115.7 541.3,114.9 542.4,114.1 543.4,113.2 544.5,112.3 545.6,111.5 546.7,110.6 547.7,109.8 548.8,108.9 549.9,108.0 551.0,107.2 552.0,106.3 553.1,105.4 554.2,104.5 555.3,103.7 556.3,102.8 557.4,102.0 558.5,101.3 559.6,100.5 560.7,99.7 561.7,99.0 562.8,98.2 563.9,97.5 565.0,96.8 566.0,96.1 567.1,95.4 568.2,94.7 569.3,94.1 570.3,93.5 571.4,92.8 572.5,92.2 573.6,91.6 574.6,91.0 575.7,90.4 576.8,89.8 577.9,89.2 578.9,88.6 580.0,88.1 581.1,87.6 582.2,87.1 583.2,86.6 584.3,86.1 585.4,85.7 586.5,85.3 587.5,84.9 588.6,84.5 589.7,84.2 590.8,83.8 591.8,83.5 592.9,83.1 594.0,82.8 595.1,82.5 596.1,82.2 597.2,81.9 598.3,81.6 599.4,81.4 600.5,81.1 601.5,80.9 602.6,80.7 603.7,80.5 604.8,80.2 605.8,80.0 606.9,79.8 608.0,79.6 609.1,79.4 610.1,79.2 611.2,79.0 612.3,78.8 613.4,78.6 614.4,78.5 615.5,78.3 616.6,78.1 617.7,78.0 618.7,77.8 619.8,77.7 620.9,77.5 622.0,77.4 623.0,77.3 624.1,77.2 625.2,77.0 626.3,76.9 627.3,76.8 628.4,76.7 629.5,76.6 630.6,76.5 631.6,76.4 632.7,76.3 633.8,76.3 634.9,76.2 635.9,76.1 637.0,76.0 638.1,75.9 639.2,75.8 640.2,75.8 641.3,75.7 642.4,75.6 643.5,75.5 644.6,75.5 645.6,75.4 646.7,75.4 647.8,75.3 648.9,75.2 649.9,75.2 651.0,75.1 652.1,75.1 653.2,75.1 654.2,75.0 655.3,75.0 656.4,74.9 657.5,74.9 658.5,74.9 659.6,74.8 660.7,74.8 661.8,74.8 662.8,74.7 663.9,74.7 665.0,74.7 666.1,74.6 667.1,74.6 668.2,74.6 669.3,74.5 670.4,74.5 671.4,74.5 672.5,74.5 673.6,74.4 674.7,74.4 675.7,74.4 676.8,74.4 677.9,74.4 679.0,74.4 680.0,74.3 681.1,74.3 682.2,74.3 683.3,74.3 684.3,74.3 685.4,74.3 686.5,74.3" fill="none" stroke="#111111" stroke-width="1.5" stroke-linejoin="round" stroke-linecap="butt"/>
<polyline points="514.4,149.4 515.5,148.5 516.6,147.4 517.6,146.1 518.7,144.7 519.8,143.1 520.9,141.5 521.9,139.5 523.0,137.3 524.1,135.0 525.2,132.6 526.2,130.4 527.3,128.1 528.4,125.8 529.5,123.5 530.5,121.2 531.6,119.0 532.7,116.7 533.8,114.4 534.8,112.1 535.9,109.6 537.0,106.9 538.1,104.0 539.1,101.1 540.2,98.2 541.3,95.4 542.4,92.9 543.4,90.7 544.5,88.8 545.6,87.0 546.7,85.3 547.7,83.7 548.8,82.4 549.9,81.2 551.0,80.3 552.0,79.4 553.1,78.6 554.2,77.9 555.3,77.3 556.3,76.7 557.4,76.2 558.5,75.9 559.6,75.6 560.7,75.4 561.7,75.2 562.8,75.0 563.9,74.8 565.0,74.6 566.0,74.5 567.1,74.4 568.2,74.3 569.3,74.3 570.3,74.3 571.4,74.4 572.5,74.6 573.6,74.8 574.6,75.0 575.7,75.3 576.8,75.6 577.9,75.9 578.9,76.2 580.0,76.5 581.1,76.8 582.2,77.1 583.2,77.3 584.3,77.6 585.4,77.9 586.5,78.1 587.5,78.4 588.6,78.7 589.7,79.0 590.8,79.3 591.8,79.6 592.9,79.9 594.0,80.2 595.1,80.4 596.1,80.7 597.2,81.0 598.3,81.2 599.4,81.5 600.5,81.7 601.5,81.9 602.6,82.1 603.7,82.3 604.8,82.5 605.8,82.7 606.9,82.9 608.0,83.1 609.1,83.4 610.1,83.5 611.2,83.7 612.3,83.9 613.4,84.1 614.4,84.3 615.5,84.5 616.6,84.6 617.7,84.8 618.7,85.0 619.8,85.1 620.9,85.3 622.0,85.4 623.0,85.5 624.1,85.7 625.2,85.8 626.3,85.9 627.3,86.0 628.4,86.1 629.5,86.2 630.6,86.3 631.6,86.4 632.7,86.5 633.8,86.6 634.9,86.6 635.9,86.7 637.0,86.8 638.1,86.9 639.2,87.0 640.2,87.0 641.3,87.1 642.4,87.2 643.5,87.2 644.6,87.3 645.6,87.3 646.7,87.4 647.8,87.5 648.9,87.5 649.9,87.6 651.0,87.6 652.1,87.6 653.2,87.7 654.2,87.7 655.3,87.8 656.4,87.8 657.5,87.8 658.5,87.9 659.6,87.9 660.7,88.0 661.8,88.0 662.8,88.0 663.9,88.1 665.0,88.1 666.1,88.1 667.1,88.2 668.2,88.2 669.3,88.2 670.4,88.3 671.4,88.3 672.5,88.3 673.6,88.4 674.7,88.4 675.7,88.4 676.8,88.4 677.9,88.4 679.0,88.5 680.0,88.5 681.1,88.5 682.2,88.5 683.3,88.5 684.3,88.5 685.4,88.5 686.5,88.5" fill="none" stroke="#c41a2e" stroke-width="1.5" stroke-linejoin="round" stroke-linecap="butt"/>
</g>
<rect x="567.0" y="71.8" width="5.0" height="5.0" fill="none" stroke="#c41a2e" stroke-width="1.4"/>
<path d="M566.5,91.0L572.5,97.0M566.5,97.0L572.5,91.0" stroke="#111111" stroke-width="1.5" fill="none"/>
<rect x="514.4" y="28.3" width="172.1" height="122.9" fill="none" stroke="#1a1a1a" stroke-width="1.1"/>
<path d="M514.4,151.2v-2.2M514.4,28.3v2.2M548.8,151.2v-2.2M548.8,28.3v2.2M583.2,151.2v-2.2M583.2,28.3v2.2M617.7,151.2v-2.2M617.7,28.3v2.2M652.1,151.2v-2.2M652.1,28.3v2.2M686.5,151.2v-2.2M686.5,28.3v2.2M514.4,142.4h2.2M686.5,142.4h-2.2M514.4,124.9h2.2M686.5,124.9h-2.2M514.4,107.3h2.2M686.5,107.3h-2.2M514.4,89.8h2.2M686.5,89.8h-2.2M514.4,72.2h2.2M686.5,72.2h-2.2M514.4,54.6h2.2M686.5,54.6h-2.2M514.4,37.1h2.2M686.5,37.1h-2.2" stroke="#1a1a1a" stroke-width="1" fill="none"/>
<text x="510.5" y="167.4" style="font-family:'Liberation Sans',sans-serif;font-size:14px;fill:#1a1a1a">0</text>
<text x="539.2" y="167.4" style="font-family:'Liberation Sans',sans-serif;font-size:14px;fill:#1a1a1a">0.2</text>
<text x="573.4" y="167.4" style="font-family:'Liberation Sans',sans-serif;font-size:14px;fill:#1a1a1a">0.4</text>
<text x="608.0" y="167.4" style="font-family:'Liberation Sans',sans-serif;font-size:14px;fill:#1a1a1a">0.6</text>
<text x="642.4" y="167.4" style="font-family:'Liberation Sans',sans-serif;font-size:14px;fill:#1a1a1a">0.8</text>
<text x="682.4" y="167.4" style="font-family:'Liberation Sans',sans-serif;font-size:14px;fill:#1a1a1a">1</text>
<text x="484.9" y="148.4" style="font-family:'Liberation Sans',sans-serif;font-size:14px;fill:#1a1a1a">−0.3</text>
<text x="484.9" y="130.9" style="font-family:'Liberation Sans',sans-serif;font-size:14px;fill:#1a1a1a">−0.2</text>
<text x="484.9" y="113.3" style="font-family:'Liberation Sans',sans-serif;font-size:14px;fill:#1a1a1a">−0.1</text>
<text x="504.7" y="95.8" style="font-family:'Liberation Sans',sans-serif;font-size:14px;fill:#1a1a1a">0</text>
<text x="493.0" y="78.2" style="font-family:'Liberation Sans',sans-serif;font-size:14px;fill:#1a1a1a">0.1</text>
<text x="493.0" y="60.6" style="font-family:'Liberation Sans',sans-serif;font-size:14px;fill:#1a1a1a">0.2</text>
<text x="493.0" y="43.1" style="font-family:'Liberation Sans',sans-serif;font-size:14px;fill:#1a1a1a">0.3</text>
<text x="596.9" y="178.6" style="font-family:'Liberation Sans',sans-serif;font-size:12px;fill:#1a1a1a" class="xl">x</text>
<line x1="568.8" y1="44.7" x2="585.0" y2="44.7" stroke="#c41a2e" stroke-width="1.5"/>
<rect x="574.1" y="42.0" width="5.5" height="5.5" fill="none" stroke="#c41a2e" stroke-width="1.5"/>
<line x1="611.3" y1="44.7" x2="626.3" y2="44.7" stroke="#111111" stroke-width="1.5"/>
<path d="M615.5,41.5L622.0,48.0M615.5,48.0L622.0,41.5" stroke="#111111" stroke-width="1.5" fill="none"/>
<text class="s" x="585.7" y="50.6" textLength="7.2" lengthAdjust="spacingAndGlyphs" style="font-family:'Liberation Serif',serif;font-size:14px;font-style:italic;fill:#1a1a1a">t</text>
<path d="M588.2,40.3h6.0M592.7,38.8l1.6,1.5l-1.6,1.5" stroke="#333" stroke-width="0.9" fill="none"/>
<text class="s" x="627.6" y="50.2" textLength="9.0" lengthAdjust="spacingAndGlyphs" style="font-family:'Liberation Serif',serif;font-size:14px;font-style:italic;fill:#1a1a1a">n</text>
<path d="M629.2,40.6h6.6M634.4,39.1l1.6,1.5l-1.6,1.5" stroke="#333" stroke-width="0.9" fill="none"/>
<text class="cp" x="585.3" y="210.0" style="font-family:'Liberation Serif',serif;font-size:18.5px;fill:#262626">(c)</text>
<clipPath id="cd"><rect x="65.4" y="248.6" width="154.9" height="125.9"/></clipPath>
<g clip-path="url(#cd)">
<polyline points="65.4,280.6 66.4,280.6 67.3,280.6 68.3,280.6 69.3,280.6 70.2,280.6 71.2,280.6 72.2,280.6 73.1,280.6 74.1,280.6 75.1,280.6 76.0,280.6 77.0,280.6 78.0,280.6 79.0,280.6 79.9,280.6 80.9,280.6 81.9,280.6 82.8,280.6 83.8,280.6 84.8,280.6 85.7,280.6 86.7,280.6 87.7,280.6 88.6,280.6 89.6,280.6 90.6,280.6 91.5,280.6 92.5,280.6 93.5,280.6 94.4,280.6 95.4,280.6 96.4,280.6 97.3,280.6 98.3,280.6 99.3,280.6 100.3,280.6 101.2,280.6 102.2,280.6 103.2,280.6 104.1,280.6 105.1,280.6 106.1,280.6 107.0,280.6 108.0,280.6 109.0,280.6 109.9,280.6 110.9,280.6 111.9,280.6 112.8,280.6 113.8,280.6 114.8,280.6 115.7,280.6 116.7,280.6 117.7,280.6 118.6,280.6 119.6,280.6 120.6,280.6 121.6,280.6 122.5,280.6 123.5,280.6 124.5,280.6 125.4,280.6 126.4,280.6 127.4,280.6 128.3,280.6 129.3,280.6 130.3,280.6 131.2,280.6 132.2,280.6 133.2,280.6 134.1,280.6 135.1,280.6 136.1,280.6 137.0,280.6 138.0,280.6 139.0,280.6 139.9,280.6 140.9,280.6 141.9,280.6 142.9,280.6 143.8,280.6 144.8,280.6 145.8,280.6 146.7,280.6 147.7,280.6 148.7,280.6 149.6,280.6 150.6,280.6 151.6,280.6 152.5,280.6 153.5,280.6 154.5,280.6 155.4,280.6 156.4,280.6 157.4,280.6 158.3,280.6 159.3,280.6 160.3,280.6 161.2,280.6 162.2,280.6 163.2,280.6 164.1,280.6 165.1,280.6 166.1,280.6 167.1,280.6 168.0,280.6 169.0,280.6 170.0,280.6 170.9,280.6 171.9,280.6 172.9,280.6 173.8,280.6 174.8,280.6 175.8,280.6 176.7,280.6 177.7,280.6 178.7,280.6 179.6,280.6 180.6,280.6 181.6,280.6 182.5,280.6 183.5,280.6 184.5,280.6 185.4,280.6 186.4,280.6 187.4,280.6 188.4,280.6 189.3,280.6 190.3,280.6 191.3,280.6 192.2,280.6 193.2,280.6 194.2,280.6 195.1,280.6 196.1,280.6 197.1,280.6 198.0,280.6 199.0,280.6 200.0,280.6 200.9,280.6 201.9,280.6 202.9,280.6 203.8,280.6 204.8,280.6 205.8,280.6 206.7,280.6 207.7,280.6 208.7,280.6 209.7,280.6 210.6,280.6 211.6,280.6 212.6,280.6 213.5,280.6 214.5,280.6 215.5,280.6 216.4,280.6 217.4,280.6 218.4,280.6 219.3,280.6 220.3,280.6" fill="none" stroke="#e3141c" stroke-width="2.0" stroke-linejoin="round" stroke-linecap="butt"/>
<polyline points="65.4,271.7 66.0,271.7 66.7,271.7 67.3,271.7 68.0,271.7 68.6,271.7 69.3,271.7 69.9,271.7 70.6,271.7 71.2,271.7 71.9,271.7 72.5,271.7 73.1,271.7 73.8,271.7 74.4,271.7 75.1,271.7 75.7,271.7 76.4,271.7 77.0,271.7 77.7,271.7 78.3,271.7 79.0,271.6 79.6,271.6 80.2,271.6 80.9,271.6 81.5,271.6 82.2,271.6 82.8,271.6 83.5,271.6 84.1,271.5 84.8,271.5 85.4,271.5 86.1,271.5 86.7,271.4 87.3,271.4 88.0,271.3 88.6,271.3 89.3,271.2 89.9,271.1 90.6,271.1 91.2,271.0 91.9,270.9 92.5,270.8 93.2,270.7 93.8,270.6 94.4,270.5 95.1,270.3 95.7,270.2 96.4,270.1 97.0,269.9 97.7,269.8 98.3,269.6 99.0,269.5 99.6,269.3 100.3,269.2 100.9,269.0 101.5,268.9 102.2,268.7 102.8,268.6 103.5,268.4 104.1,268.3 104.8,268.2 105.4,268.1 106.1,268.0 106.7,267.9 107.4,267.8 108.0,267.8 108.6,267.8 109.3,267.8 109.9,267.8 110.6,267.8 111.2,267.8 111.9,267.9 112.5,267.9 113.2,268.0 113.8,268.2 114.5,268.3 115.1,268.4 115.7,268.6 116.4,268.8 117.0,269.0 117.7,269.3 118.3,269.5 119.0,269.9 119.6,270.2 120.3,270.7 120.9,271.1 121.6,271.7 122.2,272.4 122.8,273.1 123.5,274.0 124.1,275.0 124.8,276.2 125.4,277.5 126.1,279.0 126.7,280.7 127.4,282.6 128.0,284.7 128.7,287.0 129.3,289.5 129.9,292.2 130.6,295.0 131.2,298.0 131.9,301.1 132.5,304.3 133.2,307.5 133.8,310.7 134.5,313.9 135.1,317.0 135.8,320.0 136.4,322.8 137.0,325.3 137.7,327.6 138.3,329.6 139.0,331.2 139.6,332.6 140.3,333.6 140.9,334.2 141.6,334.5 142.2,334.6 142.9,334.4 143.5,334.0 144.1,333.2 144.8,332.1 145.4,330.6 146.1,328.8 146.7,326.7 147.4,324.3 148.0,321.7 148.7,318.8 149.3,315.8 149.9,312.7 150.6,309.5 151.2,306.2 151.9,303.0 152.5,299.8 153.2,296.8 153.8,293.9 154.5,291.1 155.1,288.5 155.8,286.1 156.4,283.9 157.0,281.8 157.7,280.0 158.3,278.4 159.0,277.0 159.6,275.7 160.3,274.6 160.9,273.6 161.6,272.8 162.2,272.1 162.9,271.5 163.5,270.9 164.1,270.5 164.8,270.1 165.4,269.7 166.1,269.4 166.7,269.2 167.4,268.9 168.0,268.7 168.7,268.5 169.3,268.4 170.0,268.2 170.6,268.1 171.2,268.0 171.9,267.9 172.5,267.8 173.2,267.8 173.8,267.8 174.5,267.8 175.1,267.8 175.8,267.8 176.4,267.8 177.1,267.9 177.7,267.9 178.3,268.0 179.0,268.1 179.6,268.2 180.3,268.3 180.9,268.5 181.6,268.6 182.2,268.8 182.9,268.9 183.5,269.1 184.2,269.2 184.8,269.4 185.4,269.5 186.1,269.7 186.7,269.8 187.4,270.0 188.0,270.1 188.7,270.3 189.3,270.4 190.0,270.5 190.6,270.6 191.3,270.7 191.9,270.8 192.5,270.9 193.2,271.0 193.8,271.1 194.5,271.2 195.1,271.2 195.8,271.3 196.4,271.3 197.1,271.4 197.7,271.4 198.4,271.5 199.0,271.5 199.6,271.5 200.3,271.5 200.9,271.6 201.6,271.6 202.2,271.6 202.9,271.6 203.5,271.6 204.2,271.6 204.8,271.6 205.5,271.7 206.1,271.7 206.7,271.7 207.4,271.7 208.0,271.7 208.7,271.7 209.3,271.7 210.0,271.7 210.6,271.7 211.3,271.7 211.9,271.7 212.6,271.7 213.2,271.7 213.8,271.7 214.5,271.7 215.1,271.7 215.8,271.7 216.4,271.7 217.1,271.7 217.7,271.7 218.4,271.7 219.0,271.7 219.7,271.7 220.3,271.7" fill="none" stroke="#111111" stroke-width="1.7" stroke-dasharray="3.6,2.5" stroke-linejoin="round" stroke-linecap="butt"/>
<polyline points="65.4,274.0 66.0,274.0 66.7,274.0 67.3,274.0 68.0,274.0 68.6,274.0 69.3,274.0 69.9,274.0 70.6,274.0 71.2,274.0 71.9,274.0 72.5,274.0 73.1,274.0 73.8,274.0 74.4,274.0 75.1,274.0 75.7,274.0 76.4,274.0 77.0,274.0 77.7,274.0 78.3,274.0 79.0,274.0 79.6,274.0 80.2,274.0 80.9,274.0 81.5,274.0 82.2,274.0 82.8,273.9 83.5,273.9 84.1,273.9 84.8,273.9 85.4,273.9 86.1,273.9 86.7,273.9 87.3,273.8 88.0,273.8 88.6,273.8 89.3,273.8 89.9,273.7 90.6,273.7 91.2,273.7 91.9,273.6 92.5,273.6 93.2,273.5 93.8,273.5 94.4,273.4 95.1,273.4 95.7,273.3 96.4,273.2 97.0,273.2 97.7,273.1 98.3,273.0 99.0,273.0 99.6,272.9 100.3,272.8 100.9,272.8 101.5,272.7 102.2,272.7 102.8,272.6 103.5,272.5 104.1,272.5 104.8,272.5 105.4,272.4 106.1,272.4 106.7,272.4 107.4,272.4 108.0,272.5 108.6,272.5 109.3,272.6 109.9,272.6 110.6,272.7 111.2,272.8 111.9,273.0 112.5,273.1 113.2,273.3 113.8,273.6 114.5,273.8 115.1,274.1 115.7,274.4 116.4,274.7 117.0,275.1 117.7,275.6 118.3,276.0 119.0,276.5 119.6,277.1 120.3,277.7 120.9,278.4 121.6,279.1 122.2,279.8 122.8,280.7 123.5,281.5 124.1,282.5 124.8,283.5 125.4,284.5 126.1,285.6 126.7,286.8 127.4,288.0 128.0,289.3 128.7,290.6 129.3,292.0 129.9,293.3 130.6,294.8 131.2,296.2 131.9,297.6 132.5,299.1 133.2,300.5 133.8,301.9 134.5,303.3 135.1,304.7 135.8,305.9 136.4,307.2 137.0,308.3 137.7,309.4 138.3,310.3 139.0,311.1 139.6,311.8 140.3,312.4 140.9,312.8 141.6,313.0 142.2,313.1 142.9,313.0 143.5,312.7 144.1,312.2 144.8,311.6 145.4,310.8 146.1,309.9 146.7,308.9 147.4,307.9 148.0,306.7 148.7,305.4 149.3,304.1 149.9,302.8 150.6,301.4 151.2,299.9 151.9,298.5 152.5,297.1 153.2,295.6 153.8,294.2 154.5,292.8 155.1,291.4 155.8,290.1 156.4,288.8 157.0,287.5 157.7,286.3 158.3,285.2 159.0,284.1 159.6,283.1 160.3,282.1 160.9,281.2 161.6,280.3 162.2,279.5 162.9,278.8 163.5,278.1 164.1,277.5 164.8,276.9 165.4,276.3 166.1,275.8 166.7,275.4 167.4,275.0 168.0,274.6 168.7,274.3 169.3,274.0 170.0,273.7 170.6,273.5 171.2,273.3 171.9,273.1 172.5,272.9 173.2,272.8 173.8,272.7 174.5,272.6 175.1,272.5 175.8,272.5 176.4,272.4 177.1,272.4 177.7,272.4 178.3,272.4 179.0,272.5 179.6,272.5 180.3,272.5 180.9,272.6 181.6,272.6 182.2,272.7 182.9,272.7 183.5,272.8 184.2,272.9 184.8,272.9 185.4,273.0 186.1,273.1 186.7,273.1 187.4,273.2 188.0,273.3 188.7,273.3 189.3,273.4 190.0,273.4 190.6,273.5 191.3,273.6 191.9,273.6 192.5,273.6 193.2,273.7 193.8,273.7 194.5,273.8 195.1,273.8 195.8,273.8 196.4,273.8 197.1,273.9 197.7,273.9 198.4,273.9 199.0,273.9 199.6,273.9 200.3,273.9 200.9,273.9 201.6,273.9 202.2,274.0 202.9,274.0 203.5,274.0 204.2,274.0 204.8,274.0 205.5,274.0 206.1,274.0 206.7,274.0 207.4,274.0 208.0,274.0 208.7,274.0 209.3,274.0 210.0,274.0 210.6,274.0 211.3,274.0 211.9,274.0 212.6,274.0 213.2,274.0 213.8,274.0 214.5,274.0 215.1,274.0 215.8,274.0 216.4,274.0 217.1,274.0 217.7,274.0 218.4,274.0 219.0,274.0 219.7,274.0 220.3,274.0" fill="none" stroke="#111111" stroke-width="1.7" stroke-dasharray="3.6,2.5" stroke-linejoin="round" stroke-linecap="butt"/>
<polyline points="65.4,275.4 66.0,275.4 66.7,275.4 67.3,275.4 68.0,275.4 68.6,275.4 69.3,275.4 69.9,275.4 70.6,275.4 71.2,275.4 71.9,275.4 72.5,275.4 73.1,275.4 73.8,275.4 74.4,275.4 75.1,275.4 75.7,275.4 76.4,275.4 77.0,275.4 77.7,275.4 78.3,275.4 79.0,275.4 79.6,275.4 80.2,275.4 80.9,275.4 81.5,275.4 82.2,275.4 82.8,275.4 83.5,275.4 84.1,275.4 84.8,275.4 85.4,275.4 86.1,275.4 86.7,275.4 87.3,275.4 88.0,275.4 88.6,275.4 89.3,275.4 89.9,275.4 90.6,275.4 91.2,275.4 91.9,275.4 92.5,275.4 93.2,275.4 93.8,275.4 94.4,275.5 95.1,275.5 95.7,275.5 96.4,275.5 97.0,275.5 97.7,275.6 98.3,275.6 99.0,275.6 99.6,275.6 100.3,275.7 100.9,275.7 101.5,275.8 102.2,275.8 102.8,275.9 103.5,275.9 104.1,276.0 104.8,276.1 105.4,276.2 106.1,276.3 106.7,276.4 107.4,276.5 108.0,276.6 108.6,276.7 109.3,276.9 109.9,277.0 110.6,277.2 111.2,277.4 111.9,277.6 112.5,277.8 113.2,278.0 113.8,278.3 114.5,278.6 115.1,278.8 115.7,279.1 116.4,279.5 117.0,279.8 117.7,280.2 118.3,280.6 119.0,281.0 119.6,281.4 120.3,281.8 120.9,282.3 121.6,282.8 122.2,283.3 122.8,283.9 123.5,284.4 124.1,285.0 124.8,285.6 125.4,286.2 126.1,286.8 126.7,287.5 127.4,288.1 128.0,288.8 128.7,289.5 129.3,290.2 129.9,290.9 130.6,291.5 131.2,292.2 131.9,292.9 132.5,293.6 133.2,294.3 133.8,294.9 134.5,295.5 135.1,296.1 135.8,296.7 136.4,297.3 137.0,297.8 137.7,298.2 138.3,298.7 139.0,299.0 139.6,299.4 140.3,299.6 140.9,299.8 141.6,300.0 142.2,300.0 142.9,299.9 143.5,299.8 144.1,299.5 144.8,299.3 145.4,298.9 146.1,298.5 146.7,298.1 147.4,297.6 148.0,297.0 148.7,296.5 149.3,295.9 149.9,295.3 150.6,294.6 151.2,294.0 151.9,293.3 152.5,292.6 153.2,292.0 153.8,291.3 154.5,290.6 155.1,289.9 155.8,289.2 156.4,288.5 157.0,287.9 157.7,287.2 158.3,286.6 159.0,286.0 159.6,285.4 160.3,284.8 160.9,284.2 161.6,283.6 162.2,283.1 162.9,282.6 163.5,282.1 164.1,281.7 164.8,281.2 165.4,280.8 166.1,280.4 166.7,280.0 167.4,279.7 168.0,279.3 168.7,279.0 169.3,278.7 170.0,278.5 170.6,278.2 171.2,278.0 171.9,277.7 172.5,277.5 173.2,277.3 173.8,277.1 174.5,277.0 175.1,276.8 175.8,276.7 176.4,276.6 177.1,276.4 177.7,276.3 178.3,276.2 179.0,276.1 179.6,276.1 180.3,276.0 180.9,275.9 181.6,275.9 182.2,275.8 182.9,275.8 183.5,275.7 184.2,275.7 184.8,275.6 185.4,275.6 186.1,275.6 186.7,275.5 187.4,275.5 188.0,275.5 188.7,275.5 189.3,275.5 190.0,275.5 190.6,275.4 191.3,275.4 191.9,275.4 192.5,275.4 193.2,275.4 193.8,275.4 194.5,275.4 195.1,275.4 195.8,275.4 196.4,275.4 197.1,275.4 197.7,275.4 198.4,275.4 199.0,275.4 199.6,275.4 200.3,275.4 200.9,275.4 201.6,275.4 202.2,275.4 202.9,275.4 203.5,275.4 204.2,275.4 204.8,275.4 205.5,275.4 206.1,275.4 206.7,275.4 207.4,275.4 208.0,275.4 208.7,275.4 209.3,275.4 210.0,275.4 210.6,275.4 211.3,275.4 211.9,275.4 212.6,275.4 213.2,275.4 213.8,275.4 214.5,275.4 215.1,275.4 215.8,275.4 216.4,275.4 217.1,275.4 217.7,275.4 218.4,275.4 219.0,275.4 219.7,275.4 220.3,275.4" fill="none" stroke="#111111" stroke-width="1.7" stroke-dasharray="3.6,2.5" stroke-linejoin="round" stroke-linecap="butt"/>
<polyline points="65.4,277.4 66.0,277.4 66.7,277.4 67.3,277.4 68.0,277.4 68.6,277.4 69.3,277.4 69.9,277.4 70.6,277.5 71.2,277.5 71.9,277.5 72.5,277.5 73.1,277.5 73.8,277.5 74.4,277.5 75.1,277.6 75.7,277.6 76.4,277.6 77.0,277.6 77.7,277.6 78.3,277.7 79.0,277.7 79.6,277.7 80.2,277.7 80.9,277.8 81.5,277.8 82.2,277.8 82.8,277.9 83.5,277.9 84.1,277.9 84.8,278.0 85.4,278.0 86.1,278.1 86.7,278.1 87.3,278.2 88.0,278.2 88.6,278.3 89.3,278.3 89.9,278.4 90.6,278.4 91.2,278.5 91.9,278.6 92.5,278.6 93.2,278.7 93.8,278.8 94.4,278.9 95.1,278.9 95.7,279.0 96.4,279.1 97.0,279.2 97.7,279.3 98.3,279.3 99.0,279.4 99.6,279.5 100.3,279.6 100.9,279.7 101.5,279.8 102.2,279.9 102.8,280.0 103.5,280.1 104.1,280.2 104.8,280.3 105.4,280.4 106.1,280.5 106.7,280.6 107.4,280.7 108.0,280.8 108.6,280.9 109.3,281.0 109.9,281.1 110.6,281.2 111.2,281.2 111.9,281.3 112.5,281.4 113.2,281.5 113.8,281.6 114.5,281.7 115.1,281.8 115.7,281.9 116.4,282.0 117.0,282.1 117.7,282.1 118.3,282.2 119.0,282.3 119.6,282.4 120.3,282.5 120.9,282.5 121.6,282.6 122.2,282.7 122.8,282.7 123.5,282.8 124.1,282.8 124.8,282.9 125.4,282.9 126.1,283.0 126.7,283.0 127.4,283.1 128.0,283.1 128.7,283.2 129.3,283.2 129.9,283.2 130.6,283.3 131.2,283.3 131.9,283.3 132.5,283.4 133.2,283.4 133.8,283.4 134.5,283.4 135.1,283.4 135.8,283.4 136.4,283.5 137.0,283.5 137.7,283.5 138.3,283.5 139.0,283.5 139.6,283.5 140.3,283.5 140.9,283.5 141.6,283.5 142.2,283.5 142.9,283.5 143.5,283.5 144.1,283.5 144.8,283.5 145.4,283.5 146.1,283.5 146.7,283.5 147.4,283.5 148.0,283.4 148.7,283.4 149.3,283.4 149.9,283.4 150.6,283.4 151.2,283.4 151.9,283.3 152.5,283.3 153.2,283.3 153.8,283.3 154.5,283.2 155.1,283.2 155.8,283.2 156.4,283.1 157.0,283.1 157.7,283.0 158.3,283.0 159.0,282.9 159.6,282.9 160.3,282.8 160.9,282.8 161.6,282.7 162.2,282.6 162.9,282.6 163.5,282.5 164.1,282.4 164.8,282.3 165.4,282.3 166.1,282.2 166.7,282.1 167.4,282.0 168.0,281.9 168.7,281.9 169.3,281.8 170.0,281.7 170.6,281.6 171.2,281.5 171.9,281.4 172.5,281.3 173.2,281.2 173.8,281.1 174.5,281.0 175.1,280.9 175.8,280.8 176.4,280.7 177.1,280.6 177.7,280.5 178.3,280.4 179.0,280.3 179.6,280.2 180.3,280.1 180.9,280.0 181.6,279.9 182.2,279.8 182.9,279.8 183.5,279.7 184.2,279.6 184.8,279.5 185.4,279.4 186.1,279.3 186.7,279.2 187.4,279.1 188.0,279.1 188.7,279.0 189.3,278.9 190.0,278.8 190.6,278.8 191.3,278.7 191.9,278.6 192.5,278.5 193.2,278.5 193.8,278.4 194.5,278.4 195.1,278.3 195.8,278.3 196.4,278.2 197.1,278.1 197.7,278.1 198.4,278.1 199.0,278.0 199.6,278.0 200.3,277.9 200.9,277.9 201.6,277.9 202.2,277.8 202.9,277.8 203.5,277.8 204.2,277.7 204.8,277.7 205.5,277.7 206.1,277.6 206.7,277.6 207.4,277.6 208.0,277.6 208.7,277.6 209.3,277.5 210.0,277.5 210.6,277.5 211.3,277.5 211.9,277.5 212.6,277.5 213.2,277.5 213.8,277.5 214.5,277.4 215.1,277.4 215.8,277.4 216.4,277.4 217.1,277.4 217.7,277.4 218.4,277.4 219.0,277.4 219.7,277.4 220.3,277.4" fill="none" stroke="#111111" stroke-width="1.7" stroke-dasharray="3.6,2.5" stroke-linejoin="round" stroke-linecap="butt"/>
<polyline points="65.4,275.4 66.0,275.4 66.7,275.4 67.3,275.4 68.0,275.4 68.6,275.4 69.3,275.4 69.9,275.4 70.6,275.4 71.2,275.4 71.9,275.4 72.5,275.4 73.1,275.4 73.8,275.4 74.4,275.4 75.1,275.4 75.7,275.4 76.4,275.4 77.0,275.4 77.7,275.4 78.3,275.4 79.0,275.4 79.6,275.4 80.2,275.4 80.9,275.4 81.5,275.4 82.2,275.4 82.8,275.4 83.5,275.4 84.1,275.4 84.8,275.4 85.4,275.4 86.1,275.4 86.7,275.4 87.3,275.4 88.0,275.4 88.6,275.5 89.3,275.5 89.9,275.5 90.6,275.5 91.2,275.5 91.9,275.5 92.5,275.5 93.2,275.5 93.8,275.6 94.4,275.6 95.1,275.6 95.7,275.6 96.4,275.7 97.0,275.7 97.7,275.7 98.3,275.8 99.0,275.8 99.6,275.8 100.3,275.9 100.9,275.9 101.5,276.0 102.2,276.1 102.8,276.1 103.5,276.2 104.1,276.3 104.8,276.3 105.4,276.4 106.1,276.5 106.7,276.6 107.4,276.7 108.0,276.8 108.6,276.9 109.3,277.1 109.9,277.2 110.6,277.3 111.2,277.5 111.9,277.7 112.5,277.8 113.2,278.0 113.8,278.2 114.5,278.4 115.1,278.6 115.7,278.9 116.4,279.1 117.0,279.3 117.7,279.6 118.3,279.9 119.0,280.2 119.6,280.5 120.3,280.8 120.9,281.1 121.6,281.5 122.2,281.8 122.8,282.2 123.5,282.6 124.1,283.0 124.8,283.4 125.4,283.8 126.1,284.2 126.7,284.7 127.4,285.1 128.0,285.6 128.7,286.1 129.3,286.6 129.9,287.1 130.6,287.6 131.2,288.0 131.9,288.5 132.5,289.0 133.2,289.5 133.8,290.0 134.5,290.5 135.1,291.0 135.8,291.5 136.4,291.9 137.0,292.3 137.7,292.7 138.3,293.1 139.0,293.5 139.6,293.8 140.3,294.1 140.9,294.3 141.6,294.4 142.2,294.5 142.9,294.4 143.5,294.2 144.1,294.0 144.8,293.7 145.4,293.3 146.1,293.0 146.7,292.6 147.4,292.2 148.0,291.7 148.7,291.3 149.3,290.8 149.9,290.3 150.6,289.8 151.2,289.3 151.9,288.8 152.5,288.3 153.2,287.8 153.8,287.4 154.5,286.9 155.1,286.4 155.8,285.9 156.4,285.4 157.0,285.0 157.7,284.5 158.3,284.1 159.0,283.6 159.6,283.2 160.3,282.8 160.9,282.4 161.6,282.0 162.2,281.7 162.9,281.3 163.5,281.0 164.1,280.7 164.8,280.4 165.4,280.1 166.1,279.8 166.7,279.5 167.4,279.2 168.0,279.0 168.7,278.8 169.3,278.5 170.0,278.3 170.6,278.1 171.2,277.9 171.9,277.8 172.5,277.6 173.2,277.4 173.8,277.3 174.5,277.1 175.1,277.0 175.8,276.9 176.4,276.8 177.1,276.7 177.7,276.6 178.3,276.5 179.0,276.4 179.6,276.3 180.3,276.2 180.9,276.2 181.6,276.1 182.2,276.0 182.9,276.0 183.5,275.9 184.2,275.9 184.8,275.8 185.4,275.8 186.1,275.8 186.7,275.7 187.4,275.7 188.0,275.7 188.7,275.6 189.3,275.6 190.0,275.6 190.6,275.6 191.3,275.5 191.9,275.5 192.5,275.5 193.2,275.5 193.8,275.5 194.5,275.5 195.1,275.5 195.8,275.4 196.4,275.4 197.1,275.4 197.7,275.4 198.4,275.4 199.0,275.4 199.6,275.4 200.3,275.4 200.9,275.4 201.6,275.4 202.2,275.4 202.9,275.4 203.5,275.4 204.2,275.4 204.8,275.4 205.5,275.4 206.1,275.4 206.7,275.4 207.4,275.4 208.0,275.4 208.7,275.4 209.3,275.4 210.0,275.4 210.6,275.4 211.3,275.4 211.9,275.4 212.6,275.4 213.2,275.4 213.8,275.4 214.5,275.4 215.1,275.4 215.8,275.4 216.4,275.4 217.1,275.4 217.7,275.4 218.4,275.4 219.0,275.4 219.7,275.4 220.3,275.4" fill="none" stroke="#111111" stroke-width="1.6" stroke-linejoin="round" stroke-linecap="butt"/>
<polyline points="65.4,259.1 66.0,259.1 66.7,259.1 67.3,259.1 68.0,259.1 68.6,259.1 69.3,259.1 69.9,259.1 70.6,259.1 71.2,259.1 71.9,259.1 72.5,259.1 73.1,259.1 73.8,259.1 74.4,259.1 75.1,259.1 75.7,259.1 76.4,259.1 77.0,259.1 77.7,259.1 78.3,259.1 79.0,259.1 79.6,259.1 80.2,259.1 80.9,259.1 81.5,259.1 82.2,259.1 82.8,259.1 83.5,259.1 84.1,259.1 84.8,259.1 85.4,259.1 86.1,259.1 86.7,259.1 87.3,259.1 88.0,259.1 88.6,259.1 89.3,259.1 89.9,259.1 90.6,259.1 91.2,259.1 91.9,259.1 92.5,259.1 93.2,259.1 93.8,259.1 94.4,259.1 95.1,259.1 95.7,259.1 96.4,259.1 97.0,259.1 97.7,259.1 98.3,259.1 99.0,259.1 99.6,259.1 100.3,259.1 100.9,259.1 101.5,259.1 102.2,259.1 102.8,259.1 103.5,259.1 104.1,259.1 104.8,259.1 105.4,259.1 106.1,259.2 106.7,259.2 107.4,259.3 108.0,259.4 108.6,259.5 109.3,259.6 109.9,259.8 110.6,260.0 111.2,260.3 111.9,260.7 112.5,261.2 113.2,261.9 113.8,262.6 114.5,263.5 115.1,264.6 115.7,265.8 116.4,267.3 117.0,269.0 117.7,270.9 118.3,273.1 119.0,275.5 119.6,278.1 120.3,281.0 120.9,284.1 121.6,287.4 122.2,290.8 122.8,294.5 123.5,298.2 124.1,302.0 124.8,305.9 125.4,309.9 126.1,313.8 126.7,317.6 127.4,321.4 128.0,325.0 128.7,328.5 129.3,331.8 129.9,335.0 130.6,337.9 131.2,340.5 131.9,343.0 132.5,345.2 133.2,347.1 133.8,348.8 134.5,350.3 135.1,351.5 135.8,352.6 136.4,353.4 137.0,354.1 137.7,354.6 138.3,355.0 139.0,355.3 139.6,355.5 140.3,355.6 140.9,355.6 141.6,355.6 142.2,355.6 142.9,355.6 143.5,355.6 144.1,355.5 144.8,355.4 145.4,355.2 146.1,354.9 146.7,354.4 147.4,353.9 148.0,353.1 148.7,352.2 149.3,351.1 149.9,349.7 150.6,348.2 151.2,346.4 151.9,344.3 152.5,342.0 153.2,339.5 153.8,336.7 154.5,333.7 155.1,330.5 155.8,327.1 156.4,323.6 157.0,319.9 157.7,316.1 158.3,312.2 159.0,308.3 159.6,304.4 160.3,300.5 160.9,296.7 161.6,293.0 162.2,289.4 162.9,286.0 163.5,282.8 164.1,279.8 164.8,277.0 165.4,274.5 166.1,272.2 166.7,270.1 167.4,268.3 168.0,266.7 168.7,265.3 169.3,264.1 170.0,263.1 170.6,262.3 171.2,261.6 171.9,261.0 172.5,260.6 173.2,260.2 173.8,259.9 174.5,259.7 175.1,259.5 175.8,259.4 176.4,259.3 177.1,259.2 177.7,259.2 178.3,259.2 179.0,259.1 179.6,259.1 180.3,259.1 180.9,259.1 181.6,259.1 182.2,259.1 182.9,259.1 183.5,259.1 184.2,259.1 184.8,259.1 185.4,259.1 186.1,259.1 186.7,259.1 187.4,259.1 188.0,259.1 188.7,259.1 189.3,259.1 190.0,259.1 190.6,259.1 191.3,259.1 191.9,259.1 192.5,259.1 193.2,259.1 193.8,259.1 194.5,259.1 195.1,259.1 195.8,259.1 196.4,259.1 197.1,259.1 197.7,259.1 198.4,259.1 199.0,259.1 199.6,259.1 200.3,259.1 200.9,259.1 201.6,259.1 202.2,259.1 202.9,259.1 203.5,259.1 204.2,259.1 204.8,259.1 205.5,259.1 206.1,259.1 206.7,259.1 207.4,259.1 208.0,259.1 208.7,259.1 209.3,259.1 210.0,259.1 210.6,259.1 211.3,259.1 211.9,259.1 212.6,259.1 213.2,259.1 213.8,259.1 214.5,259.1 215.1,259.1 215.8,259.1 216.4,259.1 217.1,259.1 217.7,259.1 218.4,259.1 219.0,259.1 219.7,259.1 220.3,259.1" fill="none" stroke="#1e1ed2" stroke-width="1.5" stroke-linejoin="round" stroke-linecap="butt"/>
</g>
<rect x="139.6" y="278.1" width="5.0" height="5.0" fill="none" stroke="#e3141c" stroke-width="1.6"/>
<path d="M139.3,352.9L144.8,358.4M139.3,358.4L144.8,352.9" stroke="#1e1ed2" stroke-width="1.5" fill="none"/>
<circle cx="142.1" cy="294.5" r="2.8" fill="none" stroke="#111111" stroke-width="1.5"/>
<rect x="65.4" y="248.6" width="154.9" height="125.9" fill="none" stroke="#1a1a1a" stroke-width="1.1"/>
<path d="M65.4,374.5v-2.2M65.4,248.6v2.2M96.4,374.5v-2.2M96.4,248.6v2.2M127.4,374.5v-2.2M127.4,248.6v2.2M158.3,374.5v-2.2M158.3,248.6v2.2M189.3,374.5v-2.2M189.3,248.6v2.2M220.3,374.5v-2.2M220.3,248.6v2.2M65.4,364.0h2.2M220.3,364.0h-2.2M65.4,337.8h2.2M220.3,337.8h-2.2M65.4,311.6h2.2M220.3,311.6h-2.2M65.4,285.3h2.2M220.3,285.3h-2.2M65.4,259.1h2.2M220.3,259.1h-2.2" stroke="#1a1a1a" stroke-width="1" fill="none"/>
<text x="61.5" y="390.6" style="font-family:'Liberation Sans',sans-serif;font-size:14px;fill:#1a1a1a">0</text>
<text x="86.7" y="390.6" style="font-family:'Liberation Sans',sans-serif;font-size:14px;fill:#1a1a1a">0.2</text>
<text x="117.6" y="390.6" style="font-family:'Liberation Sans',sans-serif;font-size:14px;fill:#1a1a1a">0.4</text>
<text x="148.6" y="390.6" style="font-family:'Liberation Sans',sans-serif;font-size:14px;fill:#1a1a1a">0.6</text>
<text x="179.6" y="390.6" style="font-family:'Liberation Sans',sans-serif;font-size:14px;fill:#1a1a1a">0.8</text>
<text x="216.2" y="390.6" style="font-family:'Liberation Sans',sans-serif;font-size:14px;fill:#1a1a1a">1</text>
<text x="48.5" y="369.9" style="font-family:'Liberation Sans',sans-serif;font-size:14px;fill:#1a1a1a">−1</text>
<text x="36.9" y="343.7" style="font-family:'Liberation Sans',sans-serif;font-size:14px;fill:#1a1a1a">−0.5</text>
<text x="56.7" y="317.4" style="font-family:'Liberation Sans',sans-serif;font-size:14px;fill:#1a1a1a">0</text>
<text x="45.0" y="291.2" style="font-family:'Liberation Sans',sans-serif;font-size:14px;fill:#1a1a1a">0.5</text>
<text x="56.7" y="265.0" style="font-family:'Liberation Sans',sans-serif;font-size:14px;fill:#1a1a1a">1</text>
<text x="139.9" y="400.8" style="font-family:'Liberation Sans',sans-serif;font-size:12px;fill:#1a1a1a" class="xl">x</text>
<text class="xl" transform="translate(28.7,311.9) rotate(-90)" text-anchor="middle" style="font-family:'Liberation Sans',sans-serif;font-size:11.6px;fill:#1a1a1a">u(x)</text>
<line x1="164.3" y1="302.4" x2="179.8" y2="302.4" stroke="#e3141c" stroke-width="1.5"/>
<rect x="169.6" y="299.9" width="5.0" height="5.0" fill="none" stroke="#e3141c" stroke-width="1.4"/>
<text x="180.8" y="301.4" style="font-family:'Liberation Sans',sans-serif;font-size:14px;fill:#1a1a1a">u</text>
<text x="189.6" y="308.7" style="font-family:'Liberation Sans',sans-serif;font-size:10px;fill:#1a1a1a">a</text>
<text x="196.1" y="301.4" style="font-family:'Liberation Sans',sans-serif;font-size:14px;fill:#1a1a1a">(x)</text>
<line x1="164.3" y1="329.9" x2="179.8" y2="329.9" stroke="#1e1ed2" stroke-width="1.5"/>
<path d="M169.6,327.4L174.6,332.4M169.6,332.4L174.6,327.4" stroke="#1e1ed2" stroke-width="1.4" fill="none"/>
<text x="180.8" y="328.9" style="font-family:'Liberation Sans',sans-serif;font-size:14px;fill:#1a1a1a">u</text>
<text x="189.4" y="336.2" style="font-family:'Liberation Sans',sans-serif;font-size:10px;fill:#1a1a1a">b</text>
<text x="196.1" y="328.9" style="font-family:'Liberation Sans',sans-serif;font-size:14px;fill:#1a1a1a">(x)</text>
<line x1="164.3" y1="357.4" x2="179.8" y2="357.4" stroke="#111111" stroke-width="1.5"/>
<circle cx="172.1" cy="357.4" r="2.5" fill="none" stroke="#111111" stroke-width="1.4"/>
<text x="180.8" y="356.4" style="font-family:'Liberation Sans',sans-serif;font-size:14px;fill:#1a1a1a">u</text>
<text x="189.6" y="363.7" style="font-family:'Liberation Sans',sans-serif;font-size:10px;fill:#1a1a1a">c</text>
<text x="196.1" y="356.4" style="font-family:'Liberation Sans',sans-serif;font-size:14px;fill:#1a1a1a">(x)</text>
<text class="cp" x="118.6" y="430.0" style="font-family:'Liberation Serif',serif;font-size:18.5px;fill:#262626">(d)</text>
<clipPath id="ce"><rect x="284.5" y="248.6" width="174.0" height="125.8"/></clipPath>
<g clip-path="url(#ce)">
<polyline points="284.5,284.0 285.4,283.9 286.2,283.9 287.1,283.8 288.0,283.7 288.9,283.7 289.7,283.6 290.6,283.5 291.5,283.5 292.4,283.4 293.2,283.4 294.1,283.3 295.0,283.3 295.9,283.2 296.7,283.2 297.6,283.1 298.5,283.1 299.4,283.0 300.2,283.0 301.1,283.0 302.0,282.9 302.9,282.9 303.7,282.8 304.6,282.8 305.5,282.8 306.4,282.7 307.2,282.7 308.1,282.7 309.0,282.7 309.9,282.6 310.7,282.6 311.6,282.6 312.5,282.6 313.4,282.6 314.2,282.6 315.1,282.6 316.0,282.6 316.9,282.6 317.7,282.6 318.6,282.6 319.5,282.7 320.3,282.7 321.2,282.7 322.1,282.7 323.0,282.7 323.8,282.8 324.7,282.8 325.6,282.8 326.5,282.9 327.3,282.9 328.2,283.0 329.1,283.1 330.0,283.2 330.8,283.3 331.7,283.4 332.6,283.5 333.5,283.7 334.3,283.9 335.2,284.1 336.1,284.4 337.0,284.6 337.8,284.9 338.7,285.1 339.6,285.3 340.5,285.5 341.3,285.7 342.2,285.8 343.1,286.0 344.0,286.2 344.8,286.4 345.7,286.6 346.6,286.9 347.5,287.2 348.3,287.5 349.2,287.8 350.1,288.1 351.0,288.5 351.8,288.8 352.7,289.1 353.6,289.5 354.4,289.9 355.3,290.3 356.2,290.8 357.1,291.2 357.9,291.7 358.8,292.1 359.7,292.6 360.6,293.1 361.4,293.5 362.3,294.0 363.2,294.4 364.1,294.9 364.9,295.3 365.8,295.8 366.7,296.3 367.6,296.8 368.4,297.3 369.3,297.9 370.2,298.4 371.1,299.0 371.9,299.6 372.8,300.3 373.7,300.9 374.6,301.6 375.4,302.2 376.3,302.9 377.2,303.6 378.1,304.3 378.9,305.0 379.8,305.8 380.7,306.5 381.6,307.2 382.4,307.9 383.3,308.7 384.2,309.4 385.1,310.1 385.9,310.9 386.8,311.6 387.7,312.3 388.6,313.1 389.4,313.8 390.3,314.6 391.2,315.4 392.0,316.1 392.9,316.9 393.8,317.7 394.7,318.5 395.5,319.2 396.4,320.0 397.3,320.8 398.2,321.6 399.0,322.4 399.9,323.2 400.8,324.0 401.7,324.9 402.5,325.7 403.4,326.5 404.3,327.3 405.2,328.2 406.0,329.0 406.9,329.9 407.8,330.7 408.7,331.6 409.5,332.4 410.4,333.3 411.3,334.2 412.2,335.1 413.0,335.6 413.9,336.0 414.8,336.5 415.7,337.0 416.5,337.5 417.4,338.0 418.3,338.5 419.2,339.0 420.0,339.4 420.9,339.9 421.8,340.4 422.7,340.9 423.5,341.4 424.4,341.9 425.3,342.4 426.1,342.8 427.0,343.3 427.9,343.8 428.8,344.3 429.6,344.8 430.5,345.3 431.4,345.8 432.3,346.2 433.1,346.7 434.0,347.2 434.9,347.7 435.8,348.2 436.6,348.7 437.5,349.2 438.4,349.6 439.3,350.1 440.1,350.6 441.0,351.1 441.9,351.6 442.8,352.1 443.6,352.5 444.5,353.0 445.4,353.5 446.3,354.0 447.1,354.5 448.0,355.0 448.9,355.5 449.8,355.9 450.6,356.4 451.5,356.9 452.4,357.4 453.3,357.9 454.1,358.4 455.0,358.9 455.9,359.3 456.8,359.8 457.6,360.3 458.5,360.8" fill="none" stroke="#1e1ed2" stroke-width="1.5" stroke-linejoin="round" stroke-linecap="butt"/>
<polyline points="284.5,284.0 285.8,283.9 287.0,283.8 288.3,283.7 289.6,283.6 290.8,283.5 292.1,283.4 293.4,283.3 294.7,283.3 295.9,283.2 297.2,283.1 298.5,283.1 299.7,283.0 301.0,283.0 302.3,282.9 303.5,282.8 304.8,282.8 306.1,282.7 307.3,282.7 308.6,282.7 309.9,282.6 311.2,282.6 312.4,282.6 313.7,282.6 315.0,282.6 316.2,282.6 317.5,282.6 318.8,282.7 320.0,282.7 321.3,282.7 322.6,282.7 323.8,282.8 325.1,282.8 326.4,282.9 327.7,282.9 328.9,283.1 330.2,283.2 331.5,283.3 332.7,283.5 334.0,283.8" fill="none" stroke="#1e1ed2" stroke-width="3.8" stroke-linejoin="round" stroke-linecap="butt"/>
</g>
<path d="M334.5,282.5L338.5,286.5M334.5,286.5L338.5,282.5" stroke="#1e1ed2" stroke-width="1.3" fill="none"/>
<path d="M337.5,283.3L341.5,287.3M337.5,287.3L341.5,283.3" stroke="#1e1ed2" stroke-width="1.3" fill="none"/>
<path d="M342.5,284.3L346.5,288.3M342.5,288.3L346.5,284.3" stroke="#1e1ed2" stroke-width="1.3" fill="none"/>
<path d="M346.3,285.5L350.3,289.5M346.3,289.5L350.3,285.5" stroke="#1e1ed2" stroke-width="1.3" fill="none"/>
<path d="M351.3,287.4L355.3,291.4M351.3,291.4L355.3,287.4" stroke="#1e1ed2" stroke-width="1.3" fill="none"/>
<path d="M357.5,290.5L361.5,294.5M357.5,294.5L361.5,290.5" stroke="#1e1ed2" stroke-width="1.3" fill="none"/>
<path d="M367.5,296.0L371.5,300.0M367.5,300.0L371.5,296.0" stroke="#1e1ed2" stroke-width="1.3" fill="none"/>
<path d="M381.7,307.0L385.7,311.0M381.7,311.0L385.7,307.0" stroke="#1e1ed2" stroke-width="1.3" fill="none"/>
<path d="M410.2,333.1L414.2,337.1M410.2,337.1L414.2,333.1" stroke="#1e1ed2" stroke-width="1.3" fill="none"/>
<path d="M456.5,358.8L460.5,362.8M456.5,362.8L460.5,358.8" stroke="#1e1ed2" stroke-width="1.3" fill="none"/>
<rect x="284.5" y="248.6" width="174.0" height="125.8" fill="none" stroke="#1a1a1a" stroke-width="1.1"/>
<path d="M284.5,374.4v-2.2M284.5,248.6v2.2M319.3,374.4v-2.2M319.3,248.6v2.2M354.1,374.4v-2.2M354.1,248.6v2.2M388.9,374.4v-2.2M388.9,248.6v2.2M423.7,374.4v-2.2M423.7,248.6v2.2M458.5,374.4v-2.2M458.5,248.6v2.2M284.5,346.4h2.2M458.5,346.4h-2.2M284.5,318.5h2.2M458.5,318.5h-2.2M284.5,290.5h2.2M458.5,290.5h-2.2M284.5,262.6h2.2M458.5,262.6h-2.2" stroke="#1a1a1a" stroke-width="1" fill="none"/>
<text x="280.6" y="389.1" style="font-family:'Liberation Sans',sans-serif;font-size:14px;fill:#1a1a1a">0</text>
<text x="309.6" y="389.1" style="font-family:'Liberation Sans',sans-serif;font-size:14px;fill:#1a1a1a">0.2</text>
<text x="344.3" y="389.1" style="font-family:'Liberation Sans',sans-serif;font-size:14px;fill:#1a1a1a">0.4</text>
<text x="379.2" y="389.1" style="font-family:'Liberation Sans',sans-serif;font-size:14px;fill:#1a1a1a">0.6</text>
<text x="414.0" y="389.1" style="font-family:'Liberation Sans',sans-serif;font-size:14px;fill:#1a1a1a">0.8</text>
<text x="454.4" y="389.1" style="font-family:'Liberation Sans',sans-serif;font-size:14px;fill:#1a1a1a">1</text>
<text x="256.4" y="351.4" style="font-family:'Liberation Sans',sans-serif;font-size:14px;fill:#1a1a1a">0.08</text>
<text x="256.4" y="323.5" style="font-family:'Liberation Sans',sans-serif;font-size:14px;fill:#1a1a1a">0.09</text>
<text x="264.1" y="295.5" style="font-family:'Liberation Sans',sans-serif;font-size:14px;fill:#1a1a1a">0.1</text>
<text x="256.4" y="267.6" style="font-family:'Liberation Sans',sans-serif;font-size:14px;fill:#1a1a1a">0.11</text>
<text x="367.5" y="399.5" style="font-family:'Liberation Sans',sans-serif;font-size:14px;fill:#1a1a1a" class="al">α</text>
<text x="293.5" y="266.0" style="font-family:'Liberation Sans',sans-serif;font-size:13px;fill:#1a1a1a">u</text>
<text x="301.5" y="272.3" style="font-family:'Liberation Sans',sans-serif;font-size:10px;fill:#1a1a1a">a</text>
<text x="306.9" y="266.0" style="font-family:'Liberation Sans',sans-serif;font-size:13px;fill:#1a1a1a">(x)</text>
<line x1="293.4" y1="274.5" x2="289.6" y2="278.1" stroke="#111" stroke-width="1.0"/>
<path d="M286.0,281.6L288.0,276.5L291.2,279.8Z" fill="#111"/>
<text x="303.5" y="306.6" style="font-family:'Liberation Sans',sans-serif;font-size:13px;fill:#1a1a1a">u</text>
<text x="311.5" y="312.9" style="font-family:'Liberation Sans',sans-serif;font-size:10px;fill:#1a1a1a">c</text>
<text x="316.9" y="306.6" style="font-family:'Liberation Sans',sans-serif;font-size:13px;fill:#1a1a1a">(x)</text>
<line x1="317.8" y1="298.0" x2="317.8" y2="293.0" stroke="#111" stroke-width="1.0"/>
<path d="M317.8,288.0L320.1,293.0L315.5,293.0Z" fill="#111"/>
<text x="414.8" y="360.0" style="font-family:'Liberation Sans',sans-serif;font-size:13px;fill:#1a1a1a">u</text>
<text x="422.6" y="366.3" style="font-family:'Liberation Sans',sans-serif;font-size:10px;fill:#1a1a1a">b</text>
<text x="428.2" y="360.0" style="font-family:'Liberation Sans',sans-serif;font-size:13px;fill:#1a1a1a">(x)</text>
<line x1="444.0" y1="362.0" x2="453.0" y2="362.0" stroke="#111" stroke-width="1.0"/>
<path d="M458.0,362.0L453.0,364.3L453.0,359.7Z" fill="#111"/>
<text class="s" x="353.7" y="278.4" textLength="10.5" lengthAdjust="spacingAndGlyphs" style="font-family:'Liberation Serif',serif;font-size:14.5px;fill:#1a1a1a">Δ</text>
<text class="s" x="364.1" y="278.4" textLength="10.4" lengthAdjust="spacingAndGlyphs" style="font-family:'Liberation Serif',serif;font-size:14.5px;font-style:italic;fill:#1a1a1a">F</text>
<text class="s" x="374.4" y="280.8" textLength="5.9" lengthAdjust="spacingAndGlyphs" style="font-family:'Liberation Serif',serif;font-size:10.5px;font-style:italic;fill:#1a1a1a">n</text>
<text class="s" x="384.8" y="278.4" textLength="11.2" lengthAdjust="spacingAndGlyphs" style="font-family:'Liberation Serif',serif;font-size:14.5px;fill:#1a1a1a">=</text>
<text class="s" x="400.2" y="278.4" textLength="47.6" lengthAdjust="spacingAndGlyphs" style="font-family:'Liberation Serif',serif;font-size:14px;fill:#1a1a1a">4.48e-04</text>
<text class="s" x="291.9" y="332.7" textLength="75.8" lengthAdjust="spacingAndGlyphs" style="font-family:'Liberation Serif',serif;font-size:14px;fill:#1a1a1a">index of max</text>
<text class="s" x="296.1" y="349.0" textLength="42.3" lengthAdjust="spacingAndGlyphs" style="font-family:'Liberation Serif',serif;font-size:14px;fill:#1a1a1a">energy:</text>
<text class="s" x="344.5" y="349.0" textLength="13.1" lengthAdjust="spacingAndGlyphs" style="font-family:'Liberation Serif',serif;font-size:14px;fill:#1a1a1a">25</text>
<text class="cp" x="357.5" y="430.0" style="font-family:'Liberation Serif',serif;font-size:18.5px;fill:#262626">(e)</text>
<clipPath id="cf"><rect x="524.4" y="248.4" width="171.4" height="123.6"/></clipPath>
<g clip-path="url(#cf)">
<polyline points="524.4,292.6 525.1,292.6 525.8,292.7 526.5,292.7 527.3,292.8 528.0,292.8 528.7,292.9 529.4,292.9 530.1,293.0 530.8,293.0 531.5,293.1 532.3,293.2 533.0,293.2 533.7,293.3 534.4,293.4 535.1,293.5 535.8,293.5 536.5,293.6 537.3,293.7 538.0,293.8 538.7,293.9 539.4,294.0 540.1,294.1 540.8,294.2 541.5,294.3 542.3,294.5 543.0,294.6 543.7,294.7 544.4,294.9 545.1,295.0 545.8,295.2 546.5,295.3 547.3,295.5 548.0,295.6 548.7,295.8 549.4,296.0 550.1,296.2 550.8,296.4 551.5,296.6 552.3,296.8 553.0,297.0 553.7,297.3 554.4,297.5 555.1,297.8 555.8,298.0 556.5,298.3 557.3,298.6 558.0,298.9 558.7,299.2 559.4,299.5 560.1,299.8 560.8,300.2 561.5,300.5 562.3,300.9 563.0,301.3 563.7,301.7 564.4,302.1 565.1,302.5 565.8,303.0 566.5,303.5 567.2,303.9 568.0,304.4 568.7,304.9 569.4,305.4 570.1,306.0 570.8,306.5 571.5,307.1 572.2,307.7 573.0,308.3 573.7,309.0 574.4,309.6 575.1,310.3 575.8,310.9 576.5,311.6 577.2,312.4 578.0,313.1 578.7,313.8 579.4,314.6 580.1,315.4 580.8,316.2 581.5,317.0 582.2,317.8 583.0,318.7 583.7,319.5 584.4,320.4 585.1,321.2 585.8,322.1 586.5,323.0 587.2,323.9 588.0,324.8 588.7,325.7 589.4,326.6 590.1,327.5 590.8,328.4 591.5,329.3 592.2,330.2 593.0,331.1 593.7,331.9 594.4,332.8 595.1,333.6 595.8,334.5 596.5,335.3 597.2,336.0 598.0,336.8 598.7,337.5 599.4,338.2 600.1,338.9 600.8,339.5 601.5,340.1 602.2,340.7 603.0,341.2 603.7,341.7 604.4,342.1 605.1,342.5 605.8,342.8 606.5,343.1 607.2,343.3 608.0,343.5 608.7,343.6 609.4,343.7 610.1,343.7 610.8,343.7 611.5,343.6 612.2,343.5 613.0,343.3 613.7,343.1 614.4,342.8 615.1,342.5 615.8,342.1 616.5,341.7 617.2,341.2 618.0,340.7 618.7,340.1 619.4,339.5 620.1,338.9 620.8,338.2 621.5,337.5 622.2,336.8 623.0,336.0 623.7,335.3 624.4,334.5 625.1,333.6 625.8,332.8 626.5,331.9 627.2,331.1 628.0,330.2 628.7,329.3 629.4,328.4 630.1,327.5 630.8,326.6 631.5,325.7 632.2,324.8 633.0,323.9 633.7,323.0 634.4,322.1 635.1,321.2 635.8,320.4 636.5,319.5 637.2,318.7 638.0,317.8 638.7,317.0 639.4,316.2 640.1,315.4 640.8,314.6 641.5,313.8 642.2,313.1 643.0,312.4 643.7,311.6 644.4,310.9 645.1,310.3 645.8,309.6 646.5,309.0 647.2,308.3 648.0,307.7 648.7,307.1 649.4,306.5 650.1,306.0 650.8,305.4 651.5,304.9 652.2,304.4 652.9,303.9 653.7,303.5 654.4,303.0 655.1,302.5 655.8,302.1 656.5,301.7 657.2,301.3 657.9,300.9 658.7,300.5 659.4,300.2 660.1,299.8 660.8,299.5 661.5,299.2 662.2,298.9 662.9,298.6 663.7,298.3 664.4,298.0 665.1,297.8 665.8,297.5 666.5,297.3 667.2,297.0 667.9,296.8 668.7,296.6 669.4,296.4 670.1,296.2 670.8,296.0 671.5,295.8 672.2,295.6 672.9,295.5 673.7,295.3 674.4,295.2 675.1,295.0 675.8,294.9 676.5,294.7 677.2,294.6 677.9,294.5 678.7,294.3 679.4,294.2 680.1,294.1 680.8,294.0 681.5,293.9 682.2,293.8 682.9,293.7 683.7,293.6 684.4,293.5 685.1,293.5 685.8,293.4 686.5,293.3 687.2,293.2 687.9,293.2 688.7,293.1 689.4,293.0 690.1,293.0 690.8,292.9 691.5,292.9 692.2,292.8 692.9,292.8 693.7,292.7 694.4,292.7 695.1,292.6 695.8,292.6" fill="none" stroke="#111111" stroke-width="1.5" stroke-linejoin="round" stroke-linecap="butt"/>
<polyline points="524.4,304.9 525.1,304.9 525.8,304.8 526.5,304.7 527.3,304.7 528.0,304.6 528.7,304.6 529.4,304.5 530.1,304.4 530.8,304.4 531.5,304.3 532.3,304.2 533.0,304.1 533.7,304.1 534.4,304.0 535.1,303.9 535.8,303.8 536.5,303.7 537.3,303.7 538.0,303.6 538.7,303.5 539.4,303.4 540.1,303.3 540.8,303.2 541.5,303.1 542.3,303.0 543.0,302.9 543.7,302.8 544.4,302.7 545.1,302.6 545.8,302.5 546.5,302.4 547.3,302.3 548.0,302.2 548.7,302.1 549.4,302.0 550.1,301.9 550.8,301.8 551.5,301.7 552.3,301.5 553.0,301.4 553.7,301.2 554.4,301.1 555.1,300.9 555.8,300.8 556.5,300.6 557.3,300.4 558.0,300.3 558.7,300.1 559.4,299.9 560.1,299.8 560.8,299.6 561.5,299.5 562.3,299.3 563.0,299.2 563.7,299.0 564.4,298.9 565.1,298.8 565.8,298.7 566.5,298.6 567.2,298.5 568.0,298.5 568.7,298.4 569.4,298.4 570.1,298.3 570.8,298.2 571.5,298.2 572.2,298.1 573.0,298.1 573.7,298.1 574.4,298.0 575.1,298.0 575.8,298.0 576.5,298.0 577.2,298.1 578.0,298.1 578.7,298.2 579.4,298.4 580.1,298.5 580.8,298.7 581.5,298.8 582.2,299.0 583.0,299.4 583.7,299.9 584.4,300.5 585.1,301.2 585.8,302.1 586.5,303.0 587.2,304.0 588.0,305.1 588.7,306.8 589.4,308.9 590.1,311.5 590.8,314.4 591.5,317.3 592.2,320.0 593.0,322.6 593.7,324.7 594.4,326.7 595.1,328.5 595.8,330.3 596.5,332.1 597.2,333.8 598.0,335.5 598.7,337.3 599.4,339.0 600.1,340.9 600.8,342.9 601.5,345.0 602.2,347.2 603.0,349.3 603.7,351.2 604.4,352.8 605.1,354.0 605.8,355.1 606.5,356.1 607.2,357.1 608.0,357.9 608.7,358.5 609.4,359.0 610.1,359.1 610.8,359.0 611.5,358.5 612.2,357.9 613.0,357.1 613.7,356.1 614.4,355.1 615.1,354.0 615.8,352.8 616.5,351.2 617.2,349.3 618.0,347.2 618.7,345.1 619.4,342.9 620.1,340.9 620.8,339.0 621.5,337.1 622.2,335.2 623.0,333.3 623.7,331.5 624.4,329.6 625.1,327.6 625.8,325.7 626.5,323.6 627.2,321.5 628.0,319.1 628.7,316.5 629.4,313.8 630.1,311.2 630.8,308.7 631.5,306.6 632.2,304.9 633.0,303.7 633.7,302.7 634.4,301.8 635.1,300.9 635.8,300.2 636.5,299.6 637.2,299.1 638.0,298.7 638.7,298.5 639.4,298.3 640.1,298.1 640.8,297.9 641.5,297.8 642.2,297.6 643.0,297.5 643.7,297.4 644.4,297.3 645.1,297.2 645.8,297.2 646.5,297.1 647.2,297.1 648.0,297.1 648.7,297.2 649.4,297.2 650.1,297.3 650.8,297.3 651.5,297.4 652.2,297.5 652.9,297.6 653.7,297.7 654.4,297.8 655.1,297.9 655.8,298.1 656.5,298.2 657.2,298.3 657.9,298.5 658.7,298.6 659.4,298.7 660.1,298.8 660.8,299.0 661.5,299.1 662.2,299.2 662.9,299.3 663.7,299.4 664.4,299.6 665.1,299.7 665.8,299.8 666.5,299.9 667.2,300.1 667.9,300.2 668.7,300.3 669.4,300.5 670.1,300.6 670.8,300.8 671.5,300.9 672.2,301.0 672.9,301.2 673.7,301.3 674.4,301.5 675.1,301.6 675.8,301.7 676.5,301.9 677.2,302.0 677.9,302.1 678.7,302.3 679.4,302.4 680.1,302.5 680.8,302.6 681.5,302.7 682.2,302.9 682.9,303.0 683.7,303.1 684.4,303.2 685.1,303.4 685.8,303.5 686.5,303.6 687.2,303.7 687.9,303.8 688.7,303.9 689.4,304.1 690.1,304.2 690.8,304.3 691.5,304.4 692.2,304.5 692.9,304.6 693.7,304.7 694.4,304.9 695.1,305.0 695.8,305.1" fill="none" stroke="#c41a2e" stroke-width="1.5" stroke-linejoin="round" stroke-linecap="butt"/>
<polyline points="524.4,310.5 525.1,310.6 525.8,310.6 526.5,310.6 527.3,310.6 528.0,310.6 528.7,310.7 529.4,310.7 530.1,310.7 530.8,310.7 531.5,310.8 532.3,310.8 533.0,310.8 533.7,310.8 534.4,310.9 535.1,310.9 535.8,310.9 536.5,311.0 537.3,311.0 538.0,311.1 538.7,311.1 539.4,311.2 540.1,311.2 540.8,311.3 541.5,311.3 542.3,311.4 543.0,311.4 543.7,311.5 544.4,311.6 545.1,311.7 545.8,311.7 546.5,311.8 547.3,311.9 548.0,312.0 548.7,312.1 549.4,312.2 550.1,312.3 550.8,312.4 551.5,312.6 552.3,312.7 553.0,312.8 553.7,313.0 554.4,313.1 555.1,313.3 555.8,313.5 556.5,313.7 557.3,313.9 558.0,314.1 558.7,314.3 559.4,314.5 560.1,314.8 560.8,315.1 561.5,315.3 562.3,315.6 563.0,315.9 563.7,316.3 564.4,316.6 565.1,317.0 565.8,317.4 566.5,317.8 567.2,318.2 568.0,318.7 568.7,319.1 569.4,319.7 570.1,320.2 570.8,320.7 571.5,321.3 572.2,321.9 573.0,322.6 573.7,323.2 574.4,323.9 575.1,324.6 575.8,325.4 576.5,326.2 577.2,327.0 578.0,327.8 578.7,328.7 579.4,329.6 580.1,330.5 580.8,331.4 581.5,332.4 582.2,333.3 583.0,334.3 583.7,335.3 584.4,336.3 585.1,337.3 585.8,338.2 586.5,339.2 587.2,340.1 588.0,341.1 588.7,341.9 589.4,342.8 590.1,343.5 590.8,344.2 591.5,344.9 592.2,345.4 593.0,345.8 593.7,346.2 594.4,346.4 595.1,346.4 595.8,346.4 596.5,346.1 597.2,345.7 598.0,345.2 598.7,344.4 599.4,343.5 600.1,342.4 600.8,341.1 601.5,339.6 602.2,338.0 603.0,336.1 603.7,334.1 604.4,331.9 605.1,329.5 605.8,327.1 606.5,324.4 607.2,321.7 608.0,318.9 608.7,316.1 609.4,313.1 610.1,310.2 610.8,307.3 611.5,304.3 612.2,301.5 613.0,298.7 613.7,296.0 614.4,293.3 615.1,290.9 615.8,288.5 616.5,286.3 617.2,284.3 618.0,282.4 618.7,280.8 619.4,279.3 620.1,278.0 620.8,276.9 621.5,276.0 622.2,275.2 623.0,274.7 623.7,274.3 624.4,274.0 625.1,274.0 625.8,274.0 626.5,274.2 627.2,274.6 628.0,275.0 628.7,275.5 629.4,276.2 630.1,276.9 630.8,277.6 631.5,278.5 632.2,279.3 633.0,280.3 633.7,281.2 634.4,282.2 635.1,283.1 635.8,284.1 636.5,285.1 637.2,286.1 638.0,287.1 638.7,288.0 639.4,289.0 640.1,289.9 640.8,290.8 641.5,291.7 642.2,292.6 643.0,293.4 643.7,294.2 644.4,295.0 645.1,295.8 645.8,296.5 646.5,297.2 647.2,297.8 648.0,298.5 648.7,299.1 649.4,299.7 650.1,300.2 650.8,300.7 651.5,301.3 652.2,301.7 652.9,302.2 653.7,302.6 654.4,303.0 655.1,303.4 655.8,303.8 656.5,304.1 657.2,304.5 657.9,304.8 658.7,305.1 659.4,305.3 660.1,305.6 660.8,305.9 661.5,306.1 662.2,306.3 662.9,306.5 663.7,306.7 664.4,306.9 665.1,307.1 665.8,307.3 666.5,307.4 667.2,307.6 667.9,307.7 668.7,307.8 669.4,308.0 670.1,308.1 670.8,308.2 671.5,308.3 672.2,308.4 672.9,308.5 673.7,308.6 674.4,308.7 675.1,308.7 675.8,308.8 676.5,308.9 677.2,309.0 677.9,309.0 678.7,309.1 679.4,309.1 680.1,309.2 680.8,309.2 681.5,309.3 682.2,309.3 682.9,309.4 683.7,309.4 684.4,309.5 685.1,309.5 685.8,309.5 686.5,309.6 687.2,309.6 687.9,309.6 688.7,309.6 689.4,309.7 690.1,309.7 690.8,309.7 691.5,309.7 692.2,309.8 692.9,309.8 693.7,309.8 694.4,309.8 695.1,309.8 695.8,309.9" fill="none" stroke="#1e1ed2" stroke-width="1.5" stroke-linejoin="round" stroke-linecap="butt"/>
</g>
<rect x="576.7" y="295.7" width="5.0" height="5.0" fill="none" stroke="#c41a2e" stroke-width="1.6"/>
<path d="M576.2,311.4L582.2,317.4M576.2,317.4L582.2,311.4" stroke="#111111" stroke-width="1.5" fill="none"/>
<circle cx="579.2" cy="329.4" r="3.0" fill="none" stroke="#1e1ed2" stroke-width="1.4"/>
<rect x="524.4" y="248.4" width="171.4" height="123.6" fill="none" stroke="#1a1a1a" stroke-width="1.1"/>
<path d="M524.4,372.0v-2.2M524.4,248.4v2.2M558.7,372.0v-2.2M558.7,248.4v2.2M593.0,372.0v-2.2M593.0,248.4v2.2M627.2,372.0v-2.2M627.2,248.4v2.2M661.5,372.0v-2.2M661.5,248.4v2.2M695.8,372.0v-2.2M695.8,248.4v2.2M524.4,363.2h2.2M695.8,363.2h-2.2M524.4,345.5h2.2M695.8,345.5h-2.2M524.4,327.9h2.2M695.8,327.9h-2.2M524.4,310.2h2.2M695.8,310.2h-2.2M524.4,292.5h2.2M695.8,292.5h-2.2M524.4,274.9h2.2M695.8,274.9h-2.2M524.4,257.2h2.2M695.8,257.2h-2.2" stroke="#1a1a1a" stroke-width="1" fill="none"/>
<text x="520.5" y="387.8" style="font-family:'Liberation Sans',sans-serif;font-size:14px;fill:#1a1a1a">0</text>
<text x="549.0" y="387.8" style="font-family:'Liberation Sans',sans-serif;font-size:14px;fill:#1a1a1a">0.2</text>
<text x="583.2" y="387.8" style="font-family:'Liberation Sans',sans-serif;font-size:14px;fill:#1a1a1a">0.4</text>
<text x="617.5" y="387.8" style="font-family:'Liberation Sans',sans-serif;font-size:14px;fill:#1a1a1a">0.6</text>
<text x="651.8" y="387.8" style="font-family:'Liberation Sans',sans-serif;font-size:14px;fill:#1a1a1a">0.8</text>
<text x="691.7" y="387.8" style="font-family:'Liberation Sans',sans-serif;font-size:14px;fill:#1a1a1a">1</text>
<text x="495.4" y="368.9" style="font-family:'Liberation Sans',sans-serif;font-size:14px;fill:#1a1a1a">−0.3</text>
<text x="495.4" y="351.2" style="font-family:'Liberation Sans',sans-serif;font-size:14px;fill:#1a1a1a">−0.2</text>
<text x="495.4" y="333.6" style="font-family:'Liberation Sans',sans-serif;font-size:14px;fill:#1a1a1a">−0.1</text>
<text x="515.2" y="315.9" style="font-family:'Liberation Sans',sans-serif;font-size:14px;fill:#1a1a1a">0</text>
<text x="503.5" y="298.2" style="font-family:'Liberation Sans',sans-serif;font-size:14px;fill:#1a1a1a">0.1</text>
<text x="503.5" y="280.6" style="font-family:'Liberation Sans',sans-serif;font-size:14px;fill:#1a1a1a">0.2</text>
<text x="503.5" y="262.9" style="font-family:'Liberation Sans',sans-serif;font-size:14px;fill:#1a1a1a">0.3</text>
<text x="606.8" y="399.4" style="font-family:'Liberation Sans',sans-serif;font-size:12px;fill:#1a1a1a" class="xl">x</text>
<line x1="551.6" y1="264.1" x2="566.6" y2="264.1" stroke="#c41a2e" stroke-width="1.5"/>
<rect x="556.4" y="261.4" width="5.5" height="5.5" fill="none" stroke="#c41a2e" stroke-width="1.5"/>
<line x1="592.8" y1="264.1" x2="608.4" y2="264.1" stroke="#111111" stroke-width="1.5"/>
<path d="M597.3,260.9L603.8,267.4M597.3,267.4L603.8,260.9" stroke="#111111" stroke-width="1.5" fill="none"/>
<line x1="638.8" y1="264.1" x2="653.8" y2="264.1" stroke="#1e1ed2" stroke-width="1.5"/>
<circle cx="646.3" cy="264.1" r="2.8" fill="none" stroke="#1e1ed2" stroke-width="1.5"/>
<text class="s" x="567.1" y="269.6" textLength="7.2" lengthAdjust="spacingAndGlyphs" style="font-family:'Liberation Serif',serif;font-size:14px;font-style:italic;fill:#1a1a1a">t</text>
<path d="M569.6,259.3h6.0M574.1,257.8l1.6,1.5l-1.6,1.5" stroke="#333" stroke-width="0.9" fill="none"/>
<text class="s" x="609.4" y="269.4" textLength="9.0" lengthAdjust="spacingAndGlyphs" style="font-family:'Liberation Serif',serif;font-size:14px;font-style:italic;fill:#1a1a1a">n</text>
<path d="M611.0,259.8h6.6M616.2,258.3l1.6,1.5l-1.6,1.5" stroke="#333" stroke-width="0.9" fill="none"/>
<text class="s" x="654.8" y="266.9" style="font-family:'Liberation Serif',serif;font-size:14px;font-style:italic;fill:#1a1a1a">v</text>
<text class="s" x="663.1" y="269.0" style="font-family:'Liberation Serif',serif;font-size:10.5px;font-style:italic;fill:#1a1a1a">d</text>
<text class="cp" x="596.4" y="430.0" style="font-family:'Liberation Serif',serif;font-size:18.5px;fill:#262626">(f)</text>
</svg></body></html>
